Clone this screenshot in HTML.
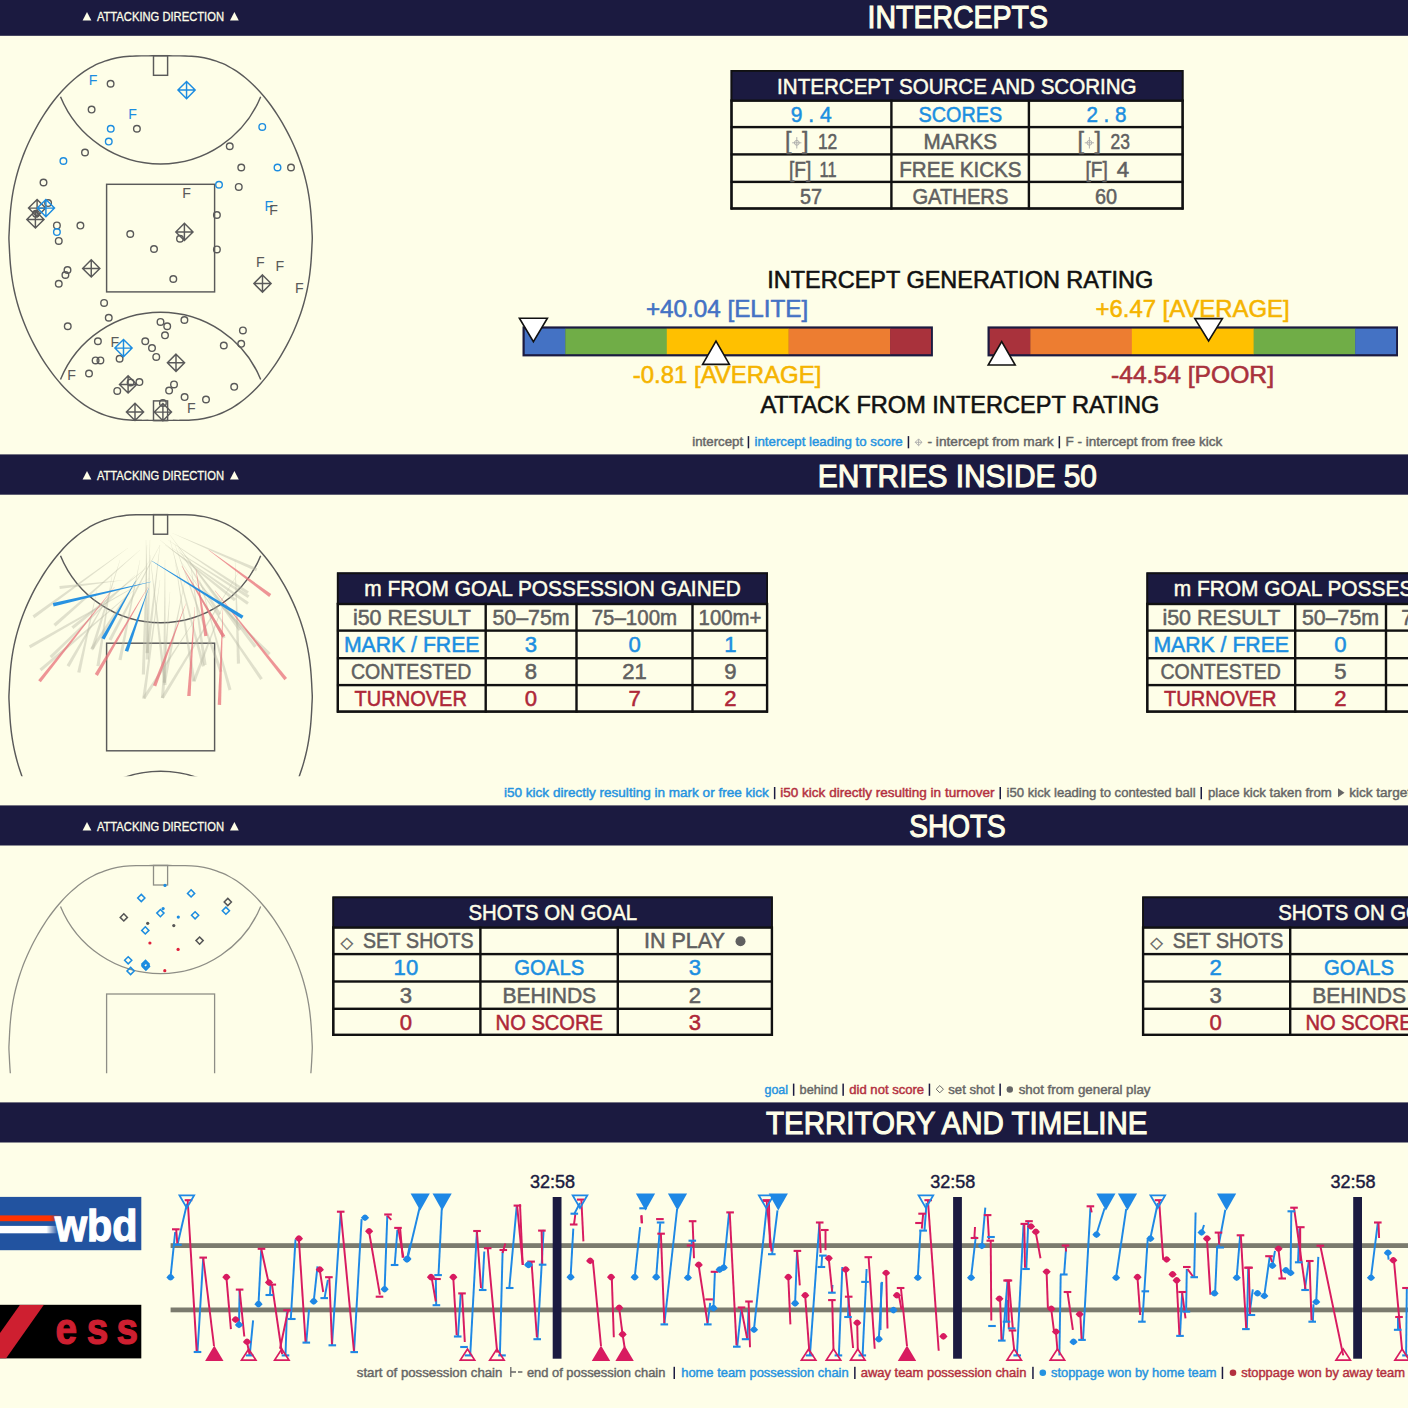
<!DOCTYPE html>
<html><head><meta charset="utf-8"><style>
html,body{margin:0;padding:0;background:#FEFEE8;overflow:hidden;width:1408px;height:1408px;}
svg{display:block;font-family:"Liberation Sans", "DejaVu Sans", sans-serif;}
</style></head><body>
<svg width="1408" height="1408" viewBox="0 0 1408 1408">
<rect width="1408" height="1408" fill="#FEFEE8"/>
<rect x="0" y="-5" width="1408" height="40.8" fill="#1B1A40"/><text x="867.6" y="27.6" font-size="31.8" fill="#FEFEE8" stroke="#FEFEE8" stroke-width="1.11" text-anchor="start" font-weight="normal" textLength="180.4" lengthAdjust="spacingAndGlyphs">INTERCEPTS</text><text x="96.9" y="20.6" font-size="12.2" fill="#FEFEE8" stroke="#FEFEE8" stroke-width="0.29" text-anchor="start" font-weight="normal" textLength="127.1" lengthAdjust="spacingAndGlyphs">ATTACKING DIRECTION</text><polygon points="82.6,20.6 91.4,20.6 87.0,12.000000000000002" fill="#FEFEE8"/><polygon points="230.0,20.6 238.8,20.6 234.4,12.000000000000002" fill="#FEFEE8"/><rect x="0" y="454.4" width="1408" height="40.30000000000001" fill="#1B1A40"/><text x="817.8" y="486.5" font-size="31.8" fill="#FEFEE8" stroke="#FEFEE8" stroke-width="1.11" text-anchor="start" font-weight="normal" textLength="279.2" lengthAdjust="spacingAndGlyphs">ENTRIES INSIDE 50</text><text x="96.9" y="479.6" font-size="12.2" fill="#FEFEE8" stroke="#FEFEE8" stroke-width="0.29" text-anchor="start" font-weight="normal" textLength="127.1" lengthAdjust="spacingAndGlyphs">ATTACKING DIRECTION</text><polygon points="82.6,479.6 91.4,479.6 87.0,471.0" fill="#FEFEE8"/><polygon points="230.0,479.6 238.8,479.6 234.4,471.0" fill="#FEFEE8"/><rect x="0" y="805.4" width="1408" height="40.10000000000002" fill="#1B1A40"/><text x="909.3" y="837.4" font-size="31.8" fill="#FEFEE8" stroke="#FEFEE8" stroke-width="1.11" text-anchor="start" font-weight="normal" textLength="96.4" lengthAdjust="spacingAndGlyphs">SHOTS</text><text x="96.9" y="830.5" font-size="12.2" fill="#FEFEE8" stroke="#FEFEE8" stroke-width="0.29" text-anchor="start" font-weight="normal" textLength="127.1" lengthAdjust="spacingAndGlyphs">ATTACKING DIRECTION</text><polygon points="82.6,830.5 91.4,830.5 87.0,821.9" fill="#FEFEE8"/><polygon points="230.0,830.5 238.8,830.5 234.4,821.9" fill="#FEFEE8"/><rect x="0" y="1102.4" width="1408" height="40.09999999999991" fill="#1B1A40"/><text x="766.0" y="1133.7" font-size="31.8" fill="#FEFEE8" stroke="#FEFEE8" stroke-width="1.11" text-anchor="start" font-weight="normal" textLength="381.5" lengthAdjust="spacingAndGlyphs">TERRITORY AND TIMELINE</text><path d="M160.60,55.78 C158.56,55.78 156.53,55.77 154.49,55.78 C152.45,55.79 150.43,55.84 148.38,55.85 C146.33,55.86 144.28,55.84 142.22,55.85 C140.16,55.86 138.08,55.86 136.00,55.92 C133.92,55.98 131.84,56.05 129.75,56.19 C127.66,56.33 125.56,56.51 123.47,56.77 C121.38,57.03 119.28,57.35 117.20,57.75 C115.12,58.15 113.04,58.62 110.98,59.18 C108.92,59.73 106.85,60.37 104.82,61.08 C102.79,61.79 100.77,62.58 98.78,63.45 C96.79,64.32 94.82,65.28 92.88,66.31 C90.94,67.34 89.02,68.44 87.13,69.61 C85.24,70.78 83.39,72.02 81.57,73.33 C79.75,74.64 77.95,76.02 76.20,77.45 C74.45,78.88 72.73,80.38 71.04,81.92 C69.35,83.46 67.70,85.06 66.08,86.70 C64.46,88.34 62.88,90.03 61.33,91.75 C59.78,93.47 58.27,95.25 56.79,97.05 C55.31,98.85 53.86,100.69 52.44,102.56 C51.02,104.43 49.64,106.33 48.29,108.26 C46.94,110.19 45.62,112.14 44.33,114.12 C43.04,116.10 41.79,118.10 40.56,120.13 C39.33,122.16 38.13,124.21 36.97,126.28 C35.80,128.35 34.67,130.45 33.57,132.56 C32.47,134.67 31.40,136.81 30.36,138.96 C29.32,141.12 28.31,143.29 27.34,145.49 C26.37,147.69 25.43,149.90 24.53,152.14 C23.63,154.38 22.76,156.63 21.93,158.90 C21.10,161.17 20.31,163.46 19.56,165.77 C18.81,168.08 18.11,170.41 17.44,172.75 C16.78,175.09 16.15,177.45 15.57,179.82 C14.99,182.19 14.45,184.57 13.96,186.97 C13.47,189.37 13.02,191.78 12.62,194.20 C12.21,196.62 11.85,199.04 11.53,201.47 C11.21,203.90 10.93,206.33 10.69,208.77 C10.45,211.21 10.24,213.66 10.06,216.10 C9.88,218.54 9.74,220.99 9.60,223.43 C9.46,225.87 9.36,228.31 9.24,230.76 C9.12,233.20 8.91,235.65 8.91,238.10 C8.91,240.55 9.12,243.00 9.24,245.44 C9.36,247.88 9.46,250.33 9.60,252.77 C9.74,255.21 9.88,257.66 10.06,260.10 C10.24,262.54 10.45,264.99 10.69,267.43 C10.93,269.87 11.21,272.30 11.53,274.73 C11.85,277.16 12.21,279.58 12.62,282.00 C13.02,284.42 13.47,286.83 13.96,289.23 C14.45,291.63 14.99,294.01 15.57,296.38 C16.15,298.75 16.78,301.11 17.44,303.45 C18.11,305.79 18.81,308.12 19.56,310.43 C20.31,312.74 21.10,315.03 21.93,317.30 C22.76,319.57 23.63,321.82 24.53,324.06 C25.43,326.30 26.37,328.51 27.34,330.71 C28.31,332.91 29.32,335.09 30.36,337.24 C31.40,339.39 32.47,341.53 33.57,343.64 C34.67,345.75 35.80,347.85 36.97,349.92 C38.13,351.99 39.33,354.04 40.56,356.07 C41.79,358.10 43.04,360.10 44.33,362.08 C45.62,364.06 46.94,366.01 48.29,367.94 C49.64,369.87 51.02,371.77 52.44,373.64 C53.86,375.51 55.31,377.35 56.79,379.15 C58.27,380.95 59.78,382.72 61.33,384.45 C62.88,386.18 64.46,387.86 66.08,389.50 C67.70,391.14 69.35,392.74 71.04,394.28 C72.73,395.82 74.45,397.32 76.20,398.75 C77.95,400.18 79.75,401.56 81.57,402.87 C83.39,404.18 85.24,405.42 87.13,406.59 C89.02,407.76 90.94,408.86 92.88,409.89 C94.82,410.92 96.79,411.88 98.78,412.75 C100.77,413.62 102.79,414.41 104.82,415.12 C106.85,415.83 108.92,416.46 110.98,417.02 C113.04,417.57 115.12,418.05 117.20,418.45 C119.28,418.85 121.38,419.17 123.47,419.43 C125.56,419.69 127.66,419.87 129.75,420.01 C131.84,420.15 133.92,420.22 136.00,420.28 C138.08,420.34 140.16,420.34 142.22,420.35 C144.28,420.36 146.33,420.34 148.38,420.35 C150.43,420.36 152.45,420.41 154.49,420.42 C156.53,420.43 158.56,420.42 160.60,420.42 C162.64,420.42 164.67,420.43 166.71,420.42 C168.75,420.41 170.77,420.36 172.82,420.35 C174.87,420.34 176.92,420.36 178.98,420.35 C181.04,420.34 183.12,420.34 185.20,420.28 C187.28,420.22 189.36,420.15 191.45,420.01 C193.54,419.87 195.64,419.69 197.73,419.43 C199.82,419.17 201.92,418.85 204.00,418.45 C206.08,418.05 208.16,417.57 210.22,417.02 C212.28,416.46 214.35,415.83 216.38,415.12 C218.41,414.41 220.43,413.62 222.42,412.75 C224.41,411.88 226.38,410.92 228.32,409.89 C230.26,408.86 232.19,407.76 234.07,406.59 C235.95,405.42 237.81,404.18 239.63,402.87 C241.45,401.56 243.25,400.18 245.00,398.75 C246.75,397.32 248.47,395.82 250.16,394.28 C251.85,392.74 253.50,391.14 255.12,389.50 C256.74,387.86 258.32,386.18 259.87,384.45 C261.42,382.72 262.93,380.95 264.41,379.15 C265.89,377.35 267.34,375.51 268.76,373.64 C270.18,371.77 271.56,369.87 272.91,367.94 C274.26,366.01 275.58,364.06 276.87,362.08 C278.16,360.10 279.41,358.10 280.64,356.07 C281.87,354.04 283.06,351.99 284.23,349.92 C285.40,347.85 286.53,345.75 287.63,343.64 C288.73,341.53 289.80,339.39 290.84,337.24 C291.88,335.09 292.89,332.91 293.86,330.71 C294.83,328.51 295.77,326.30 296.67,324.06 C297.57,321.82 298.44,319.57 299.27,317.30 C300.10,315.03 300.89,312.74 301.64,310.43 C302.39,308.12 303.09,305.79 303.76,303.45 C304.43,301.11 305.05,298.75 305.63,296.38 C306.21,294.01 306.75,291.63 307.24,289.23 C307.73,286.83 308.17,284.42 308.58,282.00 C308.99,279.58 309.35,277.16 309.67,274.73 C309.99,272.30 310.26,269.87 310.51,267.43 C310.75,264.99 310.96,262.54 311.14,260.10 C311.32,257.66 311.46,255.21 311.60,252.77 C311.74,250.33 311.84,247.88 311.96,245.44 C312.07,243.00 312.29,240.55 312.29,238.10 C312.29,235.65 312.07,233.20 311.96,230.76 C311.84,228.31 311.74,225.87 311.60,223.43 C311.46,220.99 311.32,218.54 311.14,216.10 C310.96,213.66 310.75,211.21 310.51,208.77 C310.26,206.33 309.99,203.90 309.67,201.47 C309.35,199.04 308.99,196.62 308.58,194.20 C308.17,191.78 307.73,189.37 307.24,186.97 C306.75,184.57 306.21,182.19 305.63,179.82 C305.05,177.45 304.43,175.09 303.76,172.75 C303.09,170.41 302.39,168.08 301.64,165.77 C300.89,163.46 300.10,161.17 299.27,158.90 C298.44,156.63 297.57,154.38 296.67,152.14 C295.77,149.90 294.83,147.69 293.86,145.49 C292.89,143.29 291.88,141.12 290.84,138.96 C289.80,136.81 288.73,134.67 287.63,132.56 C286.53,130.45 285.40,128.35 284.23,126.28 C283.06,124.21 281.87,122.16 280.64,120.13 C279.41,118.10 278.16,116.10 276.87,114.12 C275.58,112.14 274.26,110.19 272.91,108.26 C271.56,106.33 270.18,104.43 268.76,102.56 C267.34,100.69 265.89,98.85 264.41,97.05 C262.93,95.25 261.42,93.47 259.87,91.75 C258.32,90.03 256.74,88.34 255.12,86.70 C253.50,85.06 251.85,83.46 250.16,81.92 C248.47,80.38 246.75,78.88 245.00,77.45 C243.25,76.02 241.45,74.64 239.63,73.33 C237.81,72.02 235.95,70.78 234.07,69.61 C232.19,68.44 230.26,67.34 228.32,66.31 C226.38,65.28 224.41,64.32 222.42,63.45 C220.43,62.58 218.41,61.79 216.38,61.08 C214.35,60.37 212.28,59.73 210.22,59.18 C208.16,58.62 206.08,58.15 204.00,57.75 C201.92,57.35 199.82,57.03 197.73,56.77 C195.64,56.51 193.54,56.33 191.45,56.19 C189.36,56.05 187.28,55.98 185.20,55.92 C183.12,55.86 181.04,55.86 178.98,55.85 C176.92,55.84 174.87,55.86 172.82,55.85 C170.77,55.84 168.75,55.79 166.71,55.78 C164.67,55.77 162.64,55.78 160.60,55.78 Z" fill="none" stroke="#5A5A5A" stroke-width="1.45"/><rect x="153.5" y="55.70" width="14.1" height="19.6" fill="none" stroke="#5A5A5A" stroke-width="1.45"/><rect x="153.5" y="400.90" width="14.1" height="19.6" fill="none" stroke="#5A5A5A" stroke-width="1.45"/><path d="M60.50,96.78 A108.2,108.2 0 0 0 260.70,96.78" fill="none" stroke="#5A5A5A" stroke-width="1.45"/><path d="M60.50,379.42 A108.2,108.2 0 0 1 260.70,379.42" fill="none" stroke="#5A5A5A" stroke-width="1.45"/><rect x="106.6" y="184.30" width="108" height="107.6" fill="none" stroke="#5A5A5A" stroke-width="1.45"/><circle cx="110.6" cy="83.75" r="3.3" fill="none" stroke="#5A5A5A" stroke-width="1.4"/><circle cx="91.6" cy="109.6" r="3.3" fill="none" stroke="#5A5A5A" stroke-width="1.4"/><circle cx="110.75" cy="128.75" r="3.3" fill="none" stroke="#1C8CE0" stroke-width="1.4"/><circle cx="136.9" cy="128.75" r="3.3" fill="none" stroke="#5A5A5A" stroke-width="1.4"/><circle cx="108.75" cy="141.6" r="3.3" fill="none" stroke="#1C8CE0" stroke-width="1.4"/><circle cx="85" cy="152.5" r="3.3" fill="none" stroke="#5A5A5A" stroke-width="1.4"/><circle cx="63.4" cy="161" r="3.3" fill="none" stroke="#1C8CE0" stroke-width="1.4"/><circle cx="43.5" cy="182.5" r="3.3" fill="none" stroke="#5A5A5A" stroke-width="1.4"/><circle cx="48.1" cy="203.1" r="3.3" fill="none" stroke="#5A5A5A" stroke-width="1.4"/><circle cx="56.9" cy="225.4" r="3.3" fill="none" stroke="#5A5A5A" stroke-width="1.4"/><circle cx="56.9" cy="232.1" r="3.3" fill="none" stroke="#1C8CE0" stroke-width="1.4"/><circle cx="58.75" cy="240.9" r="3.3" fill="none" stroke="#5A5A5A" stroke-width="1.4"/><circle cx="80.4" cy="225.6" r="3.3" fill="none" stroke="#5A5A5A" stroke-width="1.4"/><circle cx="130.25" cy="234" r="3.3" fill="none" stroke="#5A5A5A" stroke-width="1.4"/><circle cx="154" cy="249" r="3.3" fill="none" stroke="#5A5A5A" stroke-width="1.4"/><circle cx="67.5" cy="270" r="3.3" fill="none" stroke="#5A5A5A" stroke-width="1.4"/><circle cx="65.4" cy="275" r="3.3" fill="none" stroke="#5A5A5A" stroke-width="1.4"/><circle cx="58.75" cy="283.75" r="3.3" fill="none" stroke="#5A5A5A" stroke-width="1.4"/><circle cx="173.3" cy="279" r="3.3" fill="none" stroke="#5A5A5A" stroke-width="1.4"/><circle cx="104.1" cy="302.9" r="3.3" fill="none" stroke="#5A5A5A" stroke-width="1.4"/><circle cx="108.75" cy="317.75" r="3.3" fill="none" stroke="#5A5A5A" stroke-width="1.4"/><circle cx="67.75" cy="326.25" r="3.3" fill="none" stroke="#5A5A5A" stroke-width="1.4"/><circle cx="97.9" cy="341.25" r="3.3" fill="none" stroke="#5A5A5A" stroke-width="1.4"/><circle cx="119.6" cy="358.75" r="3.3" fill="none" stroke="#5A5A5A" stroke-width="1.4"/><circle cx="95.6" cy="360.4" r="3.3" fill="none" stroke="#5A5A5A" stroke-width="1.4"/><circle cx="100.4" cy="360.4" r="3.3" fill="none" stroke="#5A5A5A" stroke-width="1.4"/><circle cx="160.5" cy="321.9" r="3.3" fill="none" stroke="#5A5A5A" stroke-width="1.4"/><circle cx="167.2" cy="326.25" r="3.3" fill="none" stroke="#5A5A5A" stroke-width="1.4"/><circle cx="165" cy="335.3" r="3.3" fill="none" stroke="#5A5A5A" stroke-width="1.4"/><circle cx="145.25" cy="341.25" r="3.3" fill="none" stroke="#5A5A5A" stroke-width="1.4"/><circle cx="152" cy="348.1" r="3.3" fill="none" stroke="#5A5A5A" stroke-width="1.4"/><circle cx="156.25" cy="356.9" r="3.3" fill="none" stroke="#5A5A5A" stroke-width="1.4"/><circle cx="262.25" cy="126.9" r="3.3" fill="none" stroke="#1C8CE0" stroke-width="1.4"/><circle cx="229.75" cy="146.25" r="3.3" fill="none" stroke="#5A5A5A" stroke-width="1.4"/><circle cx="241.25" cy="167.5" r="3.3" fill="none" stroke="#5A5A5A" stroke-width="1.4"/><circle cx="277.5" cy="167.5" r="3.3" fill="none" stroke="#1C8CE0" stroke-width="1.4"/><circle cx="291" cy="167.5" r="3.3" fill="none" stroke="#5A5A5A" stroke-width="1.4"/><circle cx="219" cy="184.75" r="3.3" fill="none" stroke="#1C8CE0" stroke-width="1.4"/><circle cx="238.75" cy="186.9" r="3.3" fill="none" stroke="#5A5A5A" stroke-width="1.4"/><circle cx="216.9" cy="215" r="3.3" fill="none" stroke="#5A5A5A" stroke-width="1.4"/><circle cx="180" cy="238.75" r="3.3" fill="none" stroke="#5A5A5A" stroke-width="1.4"/><circle cx="216.9" cy="249.4" r="3.3" fill="none" stroke="#5A5A5A" stroke-width="1.4"/><circle cx="184.4" cy="320" r="3.3" fill="none" stroke="#5A5A5A" stroke-width="1.4"/><circle cx="242.9" cy="330.4" r="3.3" fill="none" stroke="#5A5A5A" stroke-width="1.4"/><circle cx="241.2" cy="343.8" r="3.3" fill="none" stroke="#5A5A5A" stroke-width="1.4"/><circle cx="223.8" cy="345.5" r="3.3" fill="none" stroke="#5A5A5A" stroke-width="1.4"/><circle cx="234.2" cy="386.8" r="3.3" fill="none" stroke="#5A5A5A" stroke-width="1.4"/><circle cx="206" cy="399.5" r="3.3" fill="none" stroke="#5A5A5A" stroke-width="1.4"/><circle cx="89" cy="373.5" r="3.3" fill="none" stroke="#5A5A5A" stroke-width="1.4"/><circle cx="130.6" cy="382.5" r="3.3" fill="none" stroke="#5A5A5A" stroke-width="1.4"/><circle cx="139.4" cy="382.1" r="3.3" fill="none" stroke="#5A5A5A" stroke-width="1.4"/><circle cx="117.25" cy="390.9" r="3.3" fill="none" stroke="#5A5A5A" stroke-width="1.4"/><circle cx="174" cy="384.4" r="3.3" fill="none" stroke="#5A5A5A" stroke-width="1.4"/><circle cx="169.1" cy="390.6" r="3.3" fill="none" stroke="#5A5A5A" stroke-width="1.4"/><circle cx="184.6" cy="397.1" r="3.3" fill="none" stroke="#5A5A5A" stroke-width="1.4"/><circle cx="162.9" cy="403.1" r="3.3" fill="none" stroke="#5A5A5A" stroke-width="1.4"/><circle cx="36" cy="213.75" r="3.3" fill="none" stroke="#5A5A5A" stroke-width="1.4"/><path d="M37.1,199.5 L45.7,208.1 L37.1,216.7 L28.5,208.1 Z M37.1,199.5 V216.7 M28.5,208.1 H45.7" fill="none" stroke="#5A5A5A" stroke-width="1.45" stroke-linejoin="miter"/><path d="M35.4,210.8 L44.0,219.4 L35.4,228.0 L26.799999999999997,219.4 Z M35.4,210.8 V228.0 M26.799999999999997,219.4 H44.0" fill="none" stroke="#5A5A5A" stroke-width="1.45" stroke-linejoin="miter"/><path d="M91.25,259.79999999999995 L99.85,268.4 L91.25,277.0 L82.65,268.4 Z M91.25,259.79999999999995 V277.0 M82.65,268.4 H99.85" fill="none" stroke="#5A5A5A" stroke-width="1.45" stroke-linejoin="miter"/><path d="M184.4,223.3 L193.0,231.9 L184.4,240.5 L175.8,231.9 Z M184.4,223.3 V240.5 M175.8,231.9 H193.0" fill="none" stroke="#5A5A5A" stroke-width="1.45" stroke-linejoin="miter"/><path d="M262.5,274.9 L271.1,283.5 L262.5,292.1 L253.9,283.5 Z M262.5,274.9 V292.1 M253.9,283.5 H271.1" fill="none" stroke="#5A5A5A" stroke-width="1.45" stroke-linejoin="miter"/><path d="M176,354.15 L184.6,362.75 L176,371.35 L167.4,362.75 Z M176,354.15 V371.35 M167.4,362.75 H184.6" fill="none" stroke="#5A5A5A" stroke-width="1.45" stroke-linejoin="miter"/><path d="M128.1,375.79999999999995 L136.7,384.4 L128.1,393.0 L119.5,384.4 Z M128.1,375.79999999999995 V393.0 M119.5,384.4 H136.7" fill="none" stroke="#5A5A5A" stroke-width="1.45" stroke-linejoin="miter"/><path d="M135,403.29999999999995 L143.6,411.9 L135,420.5 L126.4,411.9 Z M135,403.29999999999995 V420.5 M126.4,411.9 H143.6" fill="none" stroke="#5A5A5A" stroke-width="1.45" stroke-linejoin="miter"/><path d="M162.9,403.5 L171.5,412.1 L162.9,420.70000000000005 L154.3,412.1 Z M162.9,403.5 V420.70000000000005 M154.3,412.1 H171.5" fill="none" stroke="#5A5A5A" stroke-width="1.45" stroke-linejoin="miter"/><path d="M45.9,199.5 L54.5,208.1 L45.9,216.7 L37.3,208.1 Z M45.9,199.5 V216.7 M37.3,208.1 H54.5" fill="none" stroke="#1C8CE0" stroke-width="1.45" stroke-linejoin="miter"/><path d="M186.55,81.46000000000001 L195.15,90.06 L186.55,98.66 L177.95000000000002,90.06 Z M186.55,81.46000000000001 V98.66 M177.95000000000002,90.06 H195.15" fill="none" stroke="#1C8CE0" stroke-width="1.45" stroke-linejoin="miter"/><path d="M123.5,339.5 L132.1,348.1 L123.5,356.70000000000005 L114.9,348.1 Z M123.5,339.5 V356.70000000000005 M114.9,348.1 H132.1" fill="none" stroke="#1C8CE0" stroke-width="1.45" stroke-linejoin="miter"/><text x="93.1" y="84.5" font-size="14.2" fill="#1C8CE0" text-anchor="middle">F</text><text x="132.5" y="118.6" font-size="14.2" fill="#1C8CE0" text-anchor="middle">F</text><text x="186.5" y="198.2" font-size="14.2" fill="#5A5A5A" text-anchor="middle">F</text><text x="268.75" y="210.7" font-size="14.2" fill="#1C8CE0" text-anchor="middle">F</text><text x="273.5" y="215.1" font-size="14.2" fill="#5A5A5A" text-anchor="middle">F</text><text x="260.25" y="267.0" font-size="14.2" fill="#5A5A5A" text-anchor="middle">F</text><text x="279.75" y="271.35" font-size="14.2" fill="#5A5A5A" text-anchor="middle">F</text><text x="299.4" y="292.6" font-size="14.2" fill="#5A5A5A" text-anchor="middle">F</text><text x="114.75" y="346.5" font-size="14.2" fill="#5A5A5A" text-anchor="middle">F</text><text x="71.5" y="380.1" font-size="14.2" fill="#5A5A5A" text-anchor="middle">F</text><text x="191.25" y="412.6" font-size="14.2" fill="#5A5A5A" text-anchor="middle">F</text><clipPath id="c2"><rect x="0" y="509.6" width="330" height="266.7"/></clipPath><g clip-path="url(#c2)"><path d="M160.60,514.68 C158.56,514.68 156.53,514.67 154.49,514.68 C152.45,514.69 150.43,514.74 148.38,514.75 C146.33,514.76 144.28,514.74 142.22,514.75 C140.16,514.76 138.08,514.76 136.00,514.82 C133.92,514.88 131.84,514.95 129.75,515.09 C127.66,515.23 125.56,515.41 123.47,515.67 C121.38,515.93 119.28,516.25 117.20,516.65 C115.12,517.05 113.04,517.52 110.98,518.08 C108.92,518.63 106.85,519.27 104.82,519.98 C102.79,520.69 100.77,521.48 98.78,522.35 C96.79,523.22 94.82,524.18 92.88,525.21 C90.94,526.24 89.02,527.34 87.13,528.51 C85.24,529.68 83.39,530.92 81.57,532.23 C79.75,533.54 77.95,534.92 76.20,536.35 C74.45,537.78 72.73,539.28 71.04,540.82 C69.35,542.36 67.70,543.96 66.08,545.60 C64.46,547.24 62.88,548.92 61.33,550.65 C59.78,552.38 58.27,554.15 56.79,555.95 C55.31,557.75 53.86,559.59 52.44,561.46 C51.02,563.33 49.64,565.23 48.29,567.16 C46.94,569.09 45.62,571.04 44.33,573.02 C43.04,575.00 41.79,577.00 40.56,579.03 C39.33,581.06 38.13,583.11 36.97,585.18 C35.80,587.25 34.67,589.35 33.57,591.46 C32.47,593.57 31.40,595.70 30.36,597.86 C29.32,600.01 28.31,602.19 27.34,604.39 C26.37,606.59 25.43,608.80 24.53,611.04 C23.63,613.27 22.76,615.53 21.93,617.80 C21.10,620.07 20.31,622.36 19.56,624.67 C18.81,626.98 18.11,629.31 17.44,631.65 C16.78,633.99 16.15,636.35 15.57,638.72 C14.99,641.09 14.45,643.47 13.96,645.87 C13.47,648.27 13.02,650.68 12.62,653.10 C12.21,655.52 11.85,657.94 11.53,660.37 C11.21,662.80 10.93,665.23 10.69,667.67 C10.45,670.11 10.24,672.56 10.06,675.00 C9.88,677.44 9.74,679.89 9.60,682.33 C9.46,684.77 9.36,687.21 9.24,689.66 C9.12,692.11 8.91,694.55 8.91,697.00 C8.91,699.45 9.12,701.89 9.24,704.34 C9.36,706.78 9.46,709.23 9.60,711.67 C9.74,714.11 9.88,716.56 10.06,719.00 C10.24,721.44 10.45,723.89 10.69,726.33 C10.93,728.77 11.21,731.20 11.53,733.63 C11.85,736.06 12.21,738.48 12.62,740.90 C13.02,743.32 13.47,745.73 13.96,748.13 C14.45,750.53 14.99,752.91 15.57,755.28 C16.15,757.65 16.78,760.01 17.44,762.35 C18.11,764.69 18.81,767.02 19.56,769.33 C20.31,771.64 21.10,773.93 21.93,776.20 C22.76,778.47 23.63,780.72 24.53,782.96 C25.43,785.19 26.37,787.41 27.34,789.61 C28.31,791.81 29.32,793.99 30.36,796.14 C31.40,798.29 32.47,800.43 33.57,802.54 C34.67,804.65 35.80,806.75 36.97,808.82 C38.13,810.89 39.33,812.94 40.56,814.97 C41.79,817.00 43.04,819.00 44.33,820.98 C45.62,822.96 46.94,824.91 48.29,826.84 C49.64,828.77 51.02,830.67 52.44,832.54 C53.86,834.41 55.31,836.25 56.79,838.05 C58.27,839.85 59.78,841.62 61.33,843.35 C62.88,845.08 64.46,846.76 66.08,848.40 C67.70,850.04 69.35,851.64 71.04,853.18 C72.73,854.72 74.45,856.22 76.20,857.65 C77.95,859.08 79.75,860.46 81.57,861.77 C83.39,863.08 85.24,864.32 87.13,865.49 C89.02,866.66 90.94,867.76 92.88,868.79 C94.82,869.82 96.79,870.78 98.78,871.65 C100.77,872.52 102.79,873.31 104.82,874.02 C106.85,874.73 108.92,875.37 110.98,875.92 C113.04,876.47 115.12,876.95 117.20,877.35 C119.28,877.75 121.38,878.07 123.47,878.33 C125.56,878.59 127.66,878.77 129.75,878.91 C131.84,879.05 133.92,879.12 136.00,879.18 C138.08,879.24 140.16,879.24 142.22,879.25 C144.28,879.26 146.33,879.24 148.38,879.25 C150.43,879.26 152.45,879.31 154.49,879.32 C156.53,879.33 158.56,879.32 160.60,879.32 C162.64,879.32 164.67,879.33 166.71,879.32 C168.75,879.31 170.77,879.26 172.82,879.25 C174.87,879.24 176.92,879.26 178.98,879.25 C181.04,879.24 183.12,879.24 185.20,879.18 C187.28,879.12 189.36,879.05 191.45,878.91 C193.54,878.77 195.64,878.59 197.73,878.33 C199.82,878.07 201.92,877.75 204.00,877.35 C206.08,876.95 208.16,876.47 210.22,875.92 C212.28,875.37 214.35,874.73 216.38,874.02 C218.41,873.31 220.43,872.52 222.42,871.65 C224.41,870.78 226.38,869.82 228.32,868.79 C230.26,867.76 232.19,866.66 234.07,865.49 C235.95,864.32 237.81,863.08 239.63,861.77 C241.45,860.46 243.25,859.08 245.00,857.65 C246.75,856.22 248.47,854.72 250.16,853.18 C251.85,851.64 253.50,850.04 255.12,848.40 C256.74,846.76 258.32,845.08 259.87,843.35 C261.42,841.62 262.93,839.85 264.41,838.05 C265.89,836.25 267.34,834.41 268.76,832.54 C270.18,830.67 271.56,828.77 272.91,826.84 C274.26,824.91 275.58,822.96 276.87,820.98 C278.16,819.00 279.41,817.00 280.64,814.97 C281.87,812.94 283.06,810.89 284.23,808.82 C285.40,806.75 286.53,804.65 287.63,802.54 C288.73,800.43 289.80,798.29 290.84,796.14 C291.88,793.99 292.89,791.81 293.86,789.61 C294.83,787.41 295.77,785.19 296.67,782.96 C297.57,780.72 298.44,778.47 299.27,776.20 C300.10,773.93 300.89,771.64 301.64,769.33 C302.39,767.02 303.09,764.69 303.76,762.35 C304.43,760.01 305.05,757.65 305.63,755.28 C306.21,752.91 306.75,750.53 307.24,748.13 C307.73,745.73 308.17,743.32 308.58,740.90 C308.99,738.48 309.35,736.06 309.67,733.63 C309.99,731.20 310.26,728.77 310.51,726.33 C310.75,723.89 310.96,721.44 311.14,719.00 C311.32,716.56 311.46,714.11 311.60,711.67 C311.74,709.23 311.84,706.78 311.96,704.34 C312.07,701.89 312.29,699.45 312.29,697.00 C312.29,694.55 312.07,692.11 311.96,689.66 C311.84,687.21 311.74,684.77 311.60,682.33 C311.46,679.89 311.32,677.44 311.14,675.00 C310.96,672.56 310.75,670.11 310.51,667.67 C310.26,665.23 309.99,662.80 309.67,660.37 C309.35,657.94 308.99,655.52 308.58,653.10 C308.17,650.68 307.73,648.27 307.24,645.87 C306.75,643.47 306.21,641.09 305.63,638.72 C305.05,636.35 304.43,633.99 303.76,631.65 C303.09,629.31 302.39,626.98 301.64,624.67 C300.89,622.36 300.10,620.07 299.27,617.80 C298.44,615.53 297.57,613.27 296.67,611.04 C295.77,608.80 294.83,606.59 293.86,604.39 C292.89,602.19 291.88,600.01 290.84,597.86 C289.80,595.70 288.73,593.57 287.63,591.46 C286.53,589.35 285.40,587.25 284.23,585.18 C283.06,583.11 281.87,581.06 280.64,579.03 C279.41,577.00 278.16,575.00 276.87,573.02 C275.58,571.04 274.26,569.09 272.91,567.16 C271.56,565.23 270.18,563.33 268.76,561.46 C267.34,559.59 265.89,557.75 264.41,555.95 C262.93,554.15 261.42,552.38 259.87,550.65 C258.32,548.92 256.74,547.24 255.12,545.60 C253.50,543.96 251.85,542.36 250.16,540.82 C248.47,539.28 246.75,537.78 245.00,536.35 C243.25,534.92 241.45,533.54 239.63,532.23 C237.81,530.92 235.95,529.68 234.07,528.51 C232.19,527.34 230.26,526.24 228.32,525.21 C226.38,524.18 224.41,523.22 222.42,522.35 C220.43,521.48 218.41,520.69 216.38,519.98 C214.35,519.27 212.28,518.63 210.22,518.08 C208.16,517.52 206.08,517.05 204.00,516.65 C201.92,516.25 199.82,515.93 197.73,515.67 C195.64,515.41 193.54,515.23 191.45,515.09 C189.36,514.95 187.28,514.88 185.20,514.82 C183.12,514.76 181.04,514.76 178.98,514.75 C176.92,514.74 174.87,514.76 172.82,514.75 C170.77,514.74 168.75,514.69 166.71,514.68 C164.67,514.67 162.64,514.68 160.60,514.68 Z" fill="none" stroke="#5A5A5A" stroke-width="1.45"/><rect x="153.5" y="514.60" width="14.1" height="19.6" fill="none" stroke="#5A5A5A" stroke-width="1.45"/><rect x="153.5" y="859.80" width="14.1" height="19.6" fill="none" stroke="#5A5A5A" stroke-width="1.45"/><path d="M60.50,555.68 A108.2,108.2 0 0 0 260.70,555.68" fill="none" stroke="#5A5A5A" stroke-width="1.45"/><path d="M60.50,838.32 A108.2,108.2 0 0 1 260.70,838.32" fill="none" stroke="#5A5A5A" stroke-width="1.45"/><rect x="106.6" y="643.20" width="108" height="107.6" fill="none" stroke="#5A5A5A" stroke-width="1.45"/></g><polygon points="127.9,547.9 32.5,615.6 34.3,618.2 128.1,548.1" fill="#B8B8A4" fill-opacity="0.42"/><polygon points="149.9,577.9 28.8,645.5 30.4,648.3 150.1,578.1" fill="#B8B8A4" fill-opacity="0.42"/><polygon points="139.9,584.9 39.5,668.8 41.5,671.2 140.1,585.1" fill="#B8B8A4" fill-opacity="0.42"/><polygon points="134.9,574.9 49.6,656.1 51.8,658.3 135.1,575.1" fill="#B8B8A4" fill-opacity="0.42"/><polygon points="139.9,549.9 53.4,624.0 55.6,626.4 140.1,550.1" fill="#B8B8A4" fill-opacity="0.42"/><polygon points="125.0,579.9 59.4,585.9 59.8,589.1 125.0,580.1" fill="#B8B8A4" fill-opacity="0.42"/><polygon points="149.9,564.9 71.4,626.6 73.4,629.0 150.1,565.1" fill="#B8B8A4" fill-opacity="0.42"/><polygon points="111.9,589.9 66.6,665.3 69.4,666.9 112.1,590.1" fill="#B8B8A4" fill-opacity="0.42"/><polygon points="96.9,590.0 77.2,672.2 80.4,672.8 97.1,590.0" fill="#B8B8A4" fill-opacity="0.42"/><polygon points="149.9,559.9 90.3,648.6 92.9,650.4 150.1,560.1" fill="#B8B8A4" fill-opacity="0.42"/><polygon points="111.9,575.0 96.4,665.9 99.6,666.3 112.1,575.0" fill="#B8B8A4" fill-opacity="0.42"/><polygon points="146.9,545.0 141.8,674.4 145.0,674.4 147.1,545.0" fill="#B8B8A4" fill-opacity="0.42"/><polygon points="145.9,540.0 145.6,653.3 148.8,653.3 146.1,540.0" fill="#B8B8A4" fill-opacity="0.42"/><polygon points="195.9,617.9 142.7,697.1 145.3,698.9 196.1,618.1" fill="#B8B8A4" fill-opacity="0.42"/><polygon points="169.9,592.0 160.9,697.9 164.1,698.1 170.1,592.0" fill="#B8B8A4" fill-opacity="0.42"/><polygon points="164.9,560.0 162.9,682.7 166.1,682.7 165.1,560.0" fill="#B8B8A4" fill-opacity="0.42"/><polygon points="174.9,560.0 192.3,681.7 195.5,681.3 175.1,560.0" fill="#B8B8A4" fill-opacity="0.42"/><polygon points="119.9,560.0 91.0,648.3 94.0,649.2 120.1,560.0" fill="#B8B8A4" fill-opacity="0.42"/><polygon points="159.9,580.0 142.2,698.5 145.3,699.0 160.1,580.0" fill="#B8B8A4" fill-opacity="0.42"/><polygon points="149.9,555.0 163.4,685.2 166.6,684.8 150.1,555.0" fill="#B8B8A4" fill-opacity="0.42"/><polygon points="139.9,560.0 118.4,659.7 121.6,660.3 140.1,560.0" fill="#B8B8A4" fill-opacity="0.42"/><polygon points="159.9,544.9 108.6,639.3 111.4,640.7 160.1,545.1" fill="#B8B8A4" fill-opacity="0.42"/><polygon points="171.9,533.1 256.1,571.3 257.3,568.3 172.1,532.9" fill="#B8B8A4" fill-opacity="0.42"/><polygon points="167.9,540.1 247.1,594.1 248.9,591.5 168.1,539.9" fill="#B8B8A4" fill-opacity="0.42"/><polygon points="171.9,548.1 247.7,598.1 249.5,595.5 172.1,547.9" fill="#B8B8A4" fill-opacity="0.42"/><polygon points="164.9,545.1 247.1,604.8 248.9,602.2 165.1,544.9" fill="#B8B8A4" fill-opacity="0.42"/><polygon points="177.9,548.1 218.2,615.2 221.0,613.4 178.1,547.9" fill="#B8B8A4" fill-opacity="0.42"/><polygon points="184.9,570.1 222.9,638.8 225.7,637.2 185.1,569.9" fill="#B8B8A4" fill-opacity="0.42"/><polygon points="184.9,555.1 254.1,647.7 256.7,645.7 185.1,554.9" fill="#B8B8A4" fill-opacity="0.42"/><polygon points="194.9,580.1 268.5,655.3 270.7,653.1 195.1,579.9" fill="#B8B8A4" fill-opacity="0.42"/><polygon points="179.9,560.1 260.2,680.0 262.8,678.2 180.1,559.9" fill="#B8B8A4" fill-opacity="0.42"/><polygon points="234.9,560.0 236.9,663.7 240.1,663.5 235.1,560.0" fill="#B8B8A4" fill-opacity="0.42"/><polygon points="174.9,545.1 219.5,672.2 222.5,671.2 175.1,544.9" fill="#B8B8A4" fill-opacity="0.42"/><polygon points="169.9,540.0 201.9,666.7 204.9,665.9 170.1,540.0" fill="#B8B8A4" fill-opacity="0.42"/><polygon points="224.9,599.9 192.5,680.5 195.5,681.7 225.1,600.1" fill="#B8B8A4" fill-opacity="0.42"/><polygon points="184.9,580.0 162.7,682.2 165.9,682.8 185.1,580.0" fill="#B8B8A4" fill-opacity="0.42"/><polygon points="239.9,569.9 160.9,697.2 163.7,698.8 240.1,570.1" fill="#B8B8A4" fill-opacity="0.42"/><polygon points="149.9,540.0 145.8,659.6 149.0,659.6 150.1,540.0" fill="#B8B8A4" fill-opacity="0.42"/><polygon points="159.9,545.0 145.8,652.6 149.0,653.0 160.1,545.0" fill="#B8B8A4" fill-opacity="0.42"/><polygon points="169.9,535.1 238.7,630.9 241.3,629.1 170.1,534.9" fill="#B8B8A4" fill-opacity="0.42"/><polygon points="159.9,540.1 234.0,601.2 236.0,598.8 160.1,539.9" fill="#B8B8A4" fill-opacity="0.42"/><polygon points="189.9,560.0 203.4,665.2 206.6,664.8 190.1,560.0" fill="#B8B8A4" fill-opacity="0.42"/><polygon points="199.9,580.0 228.5,690.4 231.5,689.6 200.1,580.0" fill="#B8B8A4" fill-opacity="0.42"/><polygon points="114.4,586.9 38.2,680.2 40.8,682.3 114.6,587.1" fill="#E8707A" fill-opacity="0.75"/><polygon points="147.9,586.9 94.8,674.1 97.8,675.9 148.1,587.1" fill="#E8707A" fill-opacity="0.75"/><polygon points="208.7,550.3 269.2,596.9 271.2,594.1 208.9,550.1" fill="#E8707A" fill-opacity="0.75"/><polygon points="181.7,565.9 222.2,637.5 225.2,635.7 181.9,565.7" fill="#E8707A" fill-opacity="0.75"/><polygon points="195.9,569.1 204.2,636.2 207.6,635.8 196.1,569.1" fill="#E8707A" fill-opacity="0.75"/><polygon points="214.8,590.8 284.4,680.2 287.0,678.0 215.0,590.6" fill="#E8707A" fill-opacity="0.75"/><polygon points="222.9,608.3 217.7,704.7 221.1,704.9 223.1,608.3" fill="#E8707A" fill-opacity="0.75"/><polygon points="194.6,606.9 187.2,695.9 190.6,696.1 194.8,606.9" fill="#E8707A" fill-opacity="0.75"/><polygon points="185.8,603.4 153.0,685.3 156.2,686.5 186.0,603.6" fill="#E8707A" fill-opacity="0.75"/><polygon points="150.9,581.8 52.8,602.9 53.6,606.5 150.9,582.0" fill="#1C8CE0" fill-opacity="0.95"/><polygon points="135.5,580.7 101.4,637.9 104.6,639.6 135.7,580.9" fill="#1C8CE0" fill-opacity="0.95"/><polygon points="148.5,588.2 124.8,650.7 128.2,651.8 148.7,588.2" fill="#1C8CE0" fill-opacity="0.95"/><polygon points="151.6,561.0 241.7,618.7 243.5,615.7 151.8,560.8" fill="#1C8CE0" fill-opacity="0.95"/><clipPath id="c3"><rect x="0" y="860.4" width="330" height="212.9"/></clipPath><g clip-path="url(#c3)"><path d="M160.60,865.48 C158.56,865.48 156.53,865.47 154.49,865.48 C152.45,865.49 150.43,865.54 148.38,865.55 C146.33,865.56 144.28,865.54 142.22,865.55 C140.16,865.56 138.08,865.56 136.00,865.62 C133.92,865.68 131.84,865.75 129.75,865.89 C127.66,866.03 125.56,866.21 123.47,866.47 C121.38,866.73 119.28,867.05 117.20,867.45 C115.12,867.85 113.04,868.32 110.98,868.88 C108.92,869.43 106.85,870.07 104.82,870.78 C102.79,871.49 100.77,872.28 98.78,873.15 C96.79,874.02 94.82,874.98 92.88,876.01 C90.94,877.04 89.02,878.14 87.13,879.31 C85.24,880.48 83.39,881.72 81.57,883.03 C79.75,884.34 77.95,885.72 76.20,887.15 C74.45,888.58 72.73,890.08 71.04,891.62 C69.35,893.16 67.70,894.76 66.08,896.40 C64.46,898.04 62.88,899.72 61.33,901.45 C59.78,903.17 58.27,904.95 56.79,906.75 C55.31,908.55 53.86,910.39 52.44,912.26 C51.02,914.13 49.64,916.03 48.29,917.96 C46.94,919.89 45.62,921.84 44.33,923.82 C43.04,925.80 41.79,927.80 40.56,929.83 C39.33,931.86 38.13,933.91 36.97,935.98 C35.80,938.05 34.67,940.15 33.57,942.26 C32.47,944.37 31.40,946.50 30.36,948.66 C29.32,950.81 28.31,952.99 27.34,955.19 C26.37,957.39 25.43,959.60 24.53,961.84 C23.63,964.07 22.76,966.33 21.93,968.60 C21.10,970.87 20.31,973.16 19.56,975.47 C18.81,977.78 18.11,980.11 17.44,982.45 C16.78,984.79 16.15,987.15 15.57,989.52 C14.99,991.89 14.45,994.27 13.96,996.67 C13.47,999.07 13.02,1001.48 12.62,1003.90 C12.21,1006.32 11.85,1008.74 11.53,1011.17 C11.21,1013.60 10.93,1016.03 10.69,1018.47 C10.45,1020.91 10.24,1023.36 10.06,1025.80 C9.88,1028.24 9.74,1030.69 9.60,1033.13 C9.46,1035.57 9.36,1038.01 9.24,1040.46 C9.12,1042.90 8.91,1045.35 8.91,1047.80 C8.91,1050.25 9.12,1052.69 9.24,1055.14 C9.36,1057.59 9.46,1060.03 9.60,1062.47 C9.74,1064.91 9.88,1067.36 10.06,1069.80 C10.24,1072.24 10.45,1074.69 10.69,1077.13 C10.93,1079.57 11.21,1082.00 11.53,1084.43 C11.85,1086.86 12.21,1089.28 12.62,1091.70 C13.02,1094.12 13.47,1096.53 13.96,1098.93 C14.45,1101.33 14.99,1103.71 15.57,1106.08 C16.15,1108.45 16.78,1110.81 17.44,1113.15 C18.11,1115.49 18.81,1117.82 19.56,1120.13 C20.31,1122.44 21.10,1124.73 21.93,1127.00 C22.76,1129.27 23.63,1131.52 24.53,1133.76 C25.43,1135.99 26.37,1138.21 27.34,1140.41 C28.31,1142.61 29.32,1144.78 30.36,1146.94 C31.40,1149.09 32.47,1151.23 33.57,1153.34 C34.67,1155.45 35.80,1157.55 36.97,1159.62 C38.13,1161.69 39.33,1163.74 40.56,1165.77 C41.79,1167.80 43.04,1169.80 44.33,1171.78 C45.62,1173.76 46.94,1175.71 48.29,1177.64 C49.64,1179.57 51.02,1181.47 52.44,1183.34 C53.86,1185.21 55.31,1187.05 56.79,1188.85 C58.27,1190.65 59.78,1192.42 61.33,1194.15 C62.88,1195.88 64.46,1197.56 66.08,1199.20 C67.70,1200.84 69.35,1202.44 71.04,1203.98 C72.73,1205.52 74.45,1207.02 76.20,1208.45 C77.95,1209.88 79.75,1211.26 81.57,1212.57 C83.39,1213.88 85.24,1215.12 87.13,1216.29 C89.02,1217.46 90.94,1218.56 92.88,1219.59 C94.82,1220.62 96.79,1221.58 98.78,1222.45 C100.77,1223.32 102.79,1224.11 104.82,1224.82 C106.85,1225.53 108.92,1226.16 110.98,1226.72 C113.04,1227.27 115.12,1227.75 117.20,1228.15 C119.28,1228.55 121.38,1228.87 123.47,1229.13 C125.56,1229.39 127.66,1229.57 129.75,1229.71 C131.84,1229.85 133.92,1229.92 136.00,1229.98 C138.08,1230.04 140.16,1230.04 142.22,1230.05 C144.28,1230.06 146.33,1230.04 148.38,1230.05 C150.43,1230.06 152.45,1230.11 154.49,1230.12 C156.53,1230.13 158.56,1230.12 160.60,1230.12 C162.64,1230.12 164.67,1230.13 166.71,1230.12 C168.75,1230.11 170.77,1230.06 172.82,1230.05 C174.87,1230.04 176.92,1230.06 178.98,1230.05 C181.04,1230.04 183.12,1230.04 185.20,1229.98 C187.28,1229.92 189.36,1229.85 191.45,1229.71 C193.54,1229.57 195.64,1229.39 197.73,1229.13 C199.82,1228.87 201.92,1228.55 204.00,1228.15 C206.08,1227.75 208.16,1227.27 210.22,1226.72 C212.28,1226.16 214.35,1225.53 216.38,1224.82 C218.41,1224.11 220.43,1223.32 222.42,1222.45 C224.41,1221.58 226.38,1220.62 228.32,1219.59 C230.26,1218.56 232.19,1217.46 234.07,1216.29 C235.95,1215.12 237.81,1213.88 239.63,1212.57 C241.45,1211.26 243.25,1209.88 245.00,1208.45 C246.75,1207.02 248.47,1205.52 250.16,1203.98 C251.85,1202.44 253.50,1200.84 255.12,1199.20 C256.74,1197.56 258.32,1195.88 259.87,1194.15 C261.42,1192.42 262.93,1190.65 264.41,1188.85 C265.89,1187.05 267.34,1185.21 268.76,1183.34 C270.18,1181.47 271.56,1179.57 272.91,1177.64 C274.26,1175.71 275.58,1173.76 276.87,1171.78 C278.16,1169.80 279.41,1167.80 280.64,1165.77 C281.87,1163.74 283.06,1161.69 284.23,1159.62 C285.40,1157.55 286.53,1155.45 287.63,1153.34 C288.73,1151.23 289.80,1149.09 290.84,1146.94 C291.88,1144.78 292.89,1142.61 293.86,1140.41 C294.83,1138.21 295.77,1135.99 296.67,1133.76 C297.57,1131.52 298.44,1129.27 299.27,1127.00 C300.10,1124.73 300.89,1122.44 301.64,1120.13 C302.39,1117.82 303.09,1115.49 303.76,1113.15 C304.43,1110.81 305.05,1108.45 305.63,1106.08 C306.21,1103.71 306.75,1101.33 307.24,1098.93 C307.73,1096.53 308.17,1094.12 308.58,1091.70 C308.99,1089.28 309.35,1086.86 309.67,1084.43 C309.99,1082.00 310.26,1079.57 310.51,1077.13 C310.75,1074.69 310.96,1072.24 311.14,1069.80 C311.32,1067.36 311.46,1064.91 311.60,1062.47 C311.74,1060.03 311.84,1057.59 311.96,1055.14 C312.07,1052.69 312.29,1050.25 312.29,1047.80 C312.29,1045.35 312.07,1042.90 311.96,1040.46 C311.84,1038.01 311.74,1035.57 311.60,1033.13 C311.46,1030.69 311.32,1028.24 311.14,1025.80 C310.96,1023.36 310.75,1020.91 310.51,1018.47 C310.26,1016.03 309.99,1013.60 309.67,1011.17 C309.35,1008.74 308.99,1006.32 308.58,1003.90 C308.17,1001.48 307.73,999.07 307.24,996.67 C306.75,994.27 306.21,991.89 305.63,989.52 C305.05,987.15 304.43,984.79 303.76,982.45 C303.09,980.11 302.39,977.78 301.64,975.47 C300.89,973.16 300.10,970.87 299.27,968.60 C298.44,966.33 297.57,964.07 296.67,961.84 C295.77,959.60 294.83,957.39 293.86,955.19 C292.89,952.99 291.88,950.81 290.84,948.66 C289.80,946.50 288.73,944.37 287.63,942.26 C286.53,940.15 285.40,938.05 284.23,935.98 C283.06,933.91 281.87,931.86 280.64,929.83 C279.41,927.80 278.16,925.80 276.87,923.82 C275.58,921.84 274.26,919.89 272.91,917.96 C271.56,916.03 270.18,914.13 268.76,912.26 C267.34,910.39 265.89,908.55 264.41,906.75 C262.93,904.95 261.42,903.17 259.87,901.45 C258.32,899.72 256.74,898.04 255.12,896.40 C253.50,894.76 251.85,893.16 250.16,891.62 C248.47,890.08 246.75,888.58 245.00,887.15 C243.25,885.72 241.45,884.34 239.63,883.03 C237.81,881.72 235.95,880.48 234.07,879.31 C232.19,878.14 230.26,877.04 228.32,876.01 C226.38,874.98 224.41,874.02 222.42,873.15 C220.43,872.28 218.41,871.49 216.38,870.78 C214.35,870.07 212.28,869.43 210.22,868.88 C208.16,868.32 206.08,867.85 204.00,867.45 C201.92,867.05 199.82,866.73 197.73,866.47 C195.64,866.21 193.54,866.03 191.45,865.89 C189.36,865.75 187.28,865.68 185.20,865.62 C183.12,865.56 181.04,865.56 178.98,865.55 C176.92,865.54 174.87,865.56 172.82,865.55 C170.77,865.54 168.75,865.49 166.71,865.48 C164.67,865.47 162.64,865.48 160.60,865.48 Z" fill="none" stroke="#8E8E86" stroke-width="1.3"/><rect x="153.5" y="865.40" width="14.1" height="19.6" fill="none" stroke="#8E8E86" stroke-width="1.3"/><rect x="153.5" y="1210.60" width="14.1" height="19.6" fill="none" stroke="#8E8E86" stroke-width="1.3"/><path d="M60.50,906.48 A108.2,108.2 0 0 0 260.70,906.48" fill="none" stroke="#8E8E86" stroke-width="1.3"/><path d="M60.50,1189.12 A108.2,108.2 0 0 1 260.70,1189.12" fill="none" stroke="#8E8E86" stroke-width="1.3"/><rect x="106.6" y="994.00" width="108" height="107.6" fill="none" stroke="#8E8E86" stroke-width="1.3"/></g><path d="M141.3,894.4 L144.9,898 L141.3,901.6 L137.70000000000002,898 Z" fill="none" stroke="#1C8CE0" stroke-width="1.5"/><path d="M191.1,889.8 L194.7,893.4 L191.1,897.0 L187.5,893.4 Z" fill="none" stroke="#1C8CE0" stroke-width="1.5"/><path d="M160.4,909.5 L164.0,913.1 L160.4,916.7 L156.8,913.1 Z" fill="none" stroke="#1C8CE0" stroke-width="1.5"/><path d="M195.1,911.6999999999999 L198.7,915.3 L195.1,918.9 L191.5,915.3 Z" fill="none" stroke="#1C8CE0" stroke-width="1.5"/><path d="M225.9,907.1 L229.5,910.7 L225.9,914.3000000000001 L222.3,910.7 Z" fill="none" stroke="#1C8CE0" stroke-width="1.5"/><path d="M145.3,926.8 L148.9,930.4 L145.3,934.0 L141.70000000000002,930.4 Z" fill="none" stroke="#1C8CE0" stroke-width="1.5"/><path d="M128.2,956.6999999999999 L131.79999999999998,960.3 L128.2,963.9 L124.6,960.3 Z" fill="none" stroke="#1C8CE0" stroke-width="1.5"/><path d="M145.5,961.6999999999999 L149.1,965.3 L145.5,968.9 L141.9,965.3 Z" fill="none" stroke="#1C8CE0" stroke-width="1.5"/><path d="M145.5,960.4 L149.1,964 L145.5,967.6 L141.9,964 Z" fill="none" stroke="#1C8CE0" stroke-width="1.5"/><path d="M145.9,962.9 L149.5,966.5 L145.9,970.1 L142.3,966.5 Z" fill="none" stroke="#1C8CE0" stroke-width="1.5"/><path d="M130.6,967.4 L134.2,971 L130.6,974.6 L127.0,971 Z" fill="none" stroke="#1C8CE0" stroke-width="1.5"/><path d="M227.8,898.4 L231.4,902 L227.8,905.6 L224.20000000000002,902 Z" fill="none" stroke="#555555" stroke-width="1.5"/><path d="M123.8,913.8 L127.39999999999999,917.4 L123.8,921.0 L120.2,917.4 Z" fill="none" stroke="#555555" stroke-width="1.5"/><path d="M199.6,937.0 L203.2,940.6 L199.6,944.2 L196.0,940.6 Z" fill="none" stroke="#555555" stroke-width="1.5"/><circle cx="165" cy="885.4" r="1.6" fill="#1C8CE0"/><circle cx="163.1" cy="908.6" r="1.6" fill="#1C8CE0"/><circle cx="178.3" cy="917.1" r="1.6" fill="#1C8CE0"/><circle cx="147.7" cy="923.3" r="1.6" fill="#555555"/><circle cx="173.8" cy="925.6" r="1.6" fill="#555555"/><circle cx="149.9" cy="943" r="1.6" fill="#E0203C"/><circle cx="178.1" cy="949.4" r="1.6" fill="#E0203C"/><circle cx="164.8" cy="970.7" r="1.6" fill="#E0203C"/><rect x="730.6" y="70" width="452.9" height="30.700000000000003" fill="#1B1A40"/><rect x="730.6" y="99.50" width="452.9" height="2.4" fill="#111"/><rect x="730.6" y="125.90" width="452.9" height="2.4" fill="#111"/><rect x="730.6" y="153.20" width="452.9" height="2.4" fill="#111"/><rect x="730.6" y="180.70" width="452.9" height="2.4" fill="#111"/><rect x="730.6" y="207.20" width="452.9" height="2.4" fill="#111"/><rect x="730.30" y="99.50" width="2.4" height="110.10" fill="#111"/><rect x="890.20" y="99.50" width="2.4" height="110.10" fill="#111"/><rect x="1027.70" y="99.50" width="2.4" height="110.10" fill="#111"/><rect x="1181.40" y="99.50" width="2.4" height="110.10" fill="#111"/><rect x="731.5" y="70.9" width="451.09999999999997" height="137.79999999999998" fill="none" stroke="#111" stroke-width="1.8"/><text x="777.1" y="93.6" font-size="22.0" fill="#FEFEE8" stroke="#FEFEE8" stroke-width="0.53" text-anchor="start" font-weight="normal" textLength="359.5" lengthAdjust="spacingAndGlyphs">INTERCEPT SOURCE AND SCORING</text><text x="790.7" y="122.3" font-size="22.1" fill="#1C8FE0" stroke="#1C8FE0" stroke-width="0.53" text-anchor="start" font-weight="normal" textLength="40.9" lengthAdjust="spacingAndGlyphs">9 . 4</text><text x="918.6" y="122.3" font-size="22.1" fill="#1C8FE0" stroke="#1C8FE0" stroke-width="0.53" text-anchor="start" font-weight="normal" textLength="83.6" lengthAdjust="spacingAndGlyphs">SCORES</text><text x="1086.4" y="122.3" font-size="22.1" fill="#1C8FE0" stroke="#1C8FE0" stroke-width="0.53" text-anchor="start" font-weight="normal" textLength="40.0" lengthAdjust="spacingAndGlyphs">2 . 8</text><text x="923.5" y="149.3" font-size="22.1" fill="#606060" stroke="#606060" stroke-width="0.53" text-anchor="start" font-weight="normal" textLength="73.5" lengthAdjust="spacingAndGlyphs">MARKS</text><text x="789.0" y="176.6" font-size="22.1" fill="#606060" stroke="#606060" stroke-width="0.53" text-anchor="start" font-weight="normal" textLength="22.2" lengthAdjust="spacingAndGlyphs">[F]</text><text x="819.5" y="176.6" font-size="22.1" fill="#606060" stroke="#606060" stroke-width="0.53" text-anchor="start" font-weight="normal" textLength="17.0" lengthAdjust="spacingAndGlyphs">11</text><text x="899.3" y="176.6" font-size="22.1" fill="#606060" stroke="#606060" stroke-width="0.53" text-anchor="start" font-weight="normal" textLength="122.2" lengthAdjust="spacingAndGlyphs">FREE KICKS</text><text x="1085.5" y="176.6" font-size="22.1" fill="#606060" stroke="#606060" stroke-width="0.53" text-anchor="start" font-weight="normal" textLength="22.2" lengthAdjust="spacingAndGlyphs">[F]</text><text x="1116.8" y="176.6" font-size="22.1" fill="#606060" stroke="#606060" stroke-width="0.53" text-anchor="start" font-weight="normal" textLength="12.4" lengthAdjust="spacingAndGlyphs">4</text><text x="800.0" y="203.5" font-size="22.1" fill="#606060" stroke="#606060" stroke-width="0.53" text-anchor="start" font-weight="normal" textLength="22.0" lengthAdjust="spacingAndGlyphs">57</text><text x="912.4" y="203.5" font-size="22.1" fill="#606060" stroke="#606060" stroke-width="0.53" text-anchor="start" font-weight="normal" textLength="96.0" lengthAdjust="spacingAndGlyphs">GATHERS</text><text x="1094.9" y="203.5" font-size="22.1" fill="#606060" stroke="#606060" stroke-width="0.53" text-anchor="start" font-weight="normal" textLength="22.1" lengthAdjust="spacingAndGlyphs">60</text><text x="785.0" y="149.3" font-size="23.5" fill="#606060" stroke="#606060" stroke-width="0.4" text-anchor="start" font-weight="normal">[</text><circle cx="796.8000000000001" cy="142.8" r="2.4" fill="none" stroke="#a8a8a8" stroke-width="0.9"/><path d="M796.8000000000001,137.10000000000002 V148.5 M792.2,142.8 H801.4000000000001" stroke="#a8a8a8" stroke-width="0.9"/><text x="802.0" y="149.3" font-size="23.5" fill="#606060" stroke="#606060" stroke-width="0.4" text-anchor="start" font-weight="normal">]</text><text x="817.9" y="149.3" font-size="22.1" fill="#606060" stroke="#606060" stroke-width="0.53" text-anchor="start" font-weight="normal" textLength="19.4" lengthAdjust="spacingAndGlyphs">12</text><text x="1077.6" y="149.3" font-size="23.5" fill="#606060" stroke="#606060" stroke-width="0.4" text-anchor="start" font-weight="normal">[</text><circle cx="1089.4" cy="142.8" r="2.4" fill="none" stroke="#a8a8a8" stroke-width="0.9"/><path d="M1089.4,137.10000000000002 V148.5 M1084.8000000000002,142.8 H1094.0" stroke="#a8a8a8" stroke-width="0.9"/><text x="1094.6" y="149.3" font-size="23.5" fill="#606060" stroke="#606060" stroke-width="0.4" text-anchor="start" font-weight="normal">]</text><text x="1110.5" y="149.3" font-size="22.1" fill="#606060" stroke="#606060" stroke-width="0.53" text-anchor="start" font-weight="normal" textLength="19.4" lengthAdjust="spacingAndGlyphs">23</text><rect x="336.9" y="572.4" width="431.1" height="31.600000000000023" fill="#1B1A40"/><rect x="336.9" y="602.80" width="431.1" height="2.4" fill="#111"/><rect x="336.9" y="629.40" width="431.1" height="2.4" fill="#111"/><rect x="336.9" y="657.00" width="431.1" height="2.4" fill="#111"/><rect x="336.9" y="683.90" width="431.1" height="2.4" fill="#111"/><rect x="336.9" y="710.30" width="431.1" height="2.4" fill="#111"/><rect x="336.60" y="602.80" width="2.4" height="109.90" fill="#111"/><rect x="484.50" y="602.80" width="2.4" height="109.90" fill="#111"/><rect x="575.30" y="602.80" width="2.4" height="109.90" fill="#111"/><rect x="691.30" y="602.80" width="2.4" height="109.90" fill="#111"/><rect x="765.90" y="602.80" width="2.4" height="109.90" fill="#111"/><rect x="337.79999999999995" y="573.3" width="429.3" height="138.50000000000006" fill="none" stroke="#111" stroke-width="1.8"/><text x="364.3" y="596.0" font-size="22.0" fill="#FEFEE8" stroke="#FEFEE8" stroke-width="0.53" text-anchor="start" font-weight="normal" textLength="376.5" lengthAdjust="spacingAndGlyphs">m FROM GOAL POSSESSION GAINED</text><text x="352.9" y="624.6" font-size="22.1" fill="#606060" stroke="#606060" stroke-width="0.53" text-anchor="start" font-weight="normal" textLength="117.9" lengthAdjust="spacingAndGlyphs">i50 RESULT</text><text x="492.4" y="624.6" font-size="22.1" fill="#606060" stroke="#606060" stroke-width="0.53" text-anchor="start" font-weight="normal" textLength="77.3" lengthAdjust="spacingAndGlyphs">50–75m</text><text x="591.7" y="624.6" font-size="22.1" fill="#606060" stroke="#606060" stroke-width="0.53" text-anchor="start" font-weight="normal" textLength="85.4" lengthAdjust="spacingAndGlyphs">75–100m</text><text x="698.6" y="624.6" font-size="22.1" fill="#606060" stroke="#606060" stroke-width="0.53" text-anchor="start" font-weight="normal" textLength="62.9" lengthAdjust="spacingAndGlyphs">100m+</text><text x="343.9" y="652.0" font-size="22.1" fill="#1C8FE0" stroke="#1C8FE0" stroke-width="0.53" text-anchor="start" font-weight="normal" textLength="135.6" lengthAdjust="spacingAndGlyphs">MARK / FREE</text><text x="350.9" y="679.0" font-size="22.1" fill="#606060" stroke="#606060" stroke-width="0.53" text-anchor="start" font-weight="normal" textLength="120.4" lengthAdjust="spacingAndGlyphs">CONTESTED</text><text x="354.5" y="706.3" font-size="22.1" fill="#AE2738" stroke="#AE2738" stroke-width="0.53" text-anchor="start" font-weight="normal" textLength="112.4" lengthAdjust="spacingAndGlyphs">TURNOVER</text><text x="531.0" y="652.0" font-size="22.1" fill="#1C8FE0" stroke="#1C8FE0" stroke-width="0.53" text-anchor="middle" font-weight="normal">3</text><text x="634.6" y="652.0" font-size="22.1" fill="#1C8FE0" stroke="#1C8FE0" stroke-width="0.53" text-anchor="middle" font-weight="normal">0</text><text x="730.5" y="652.0" font-size="22.1" fill="#1C8FE0" stroke="#1C8FE0" stroke-width="0.53" text-anchor="middle" font-weight="normal">1</text><text x="531.0" y="679.0" font-size="22.1" fill="#606060" stroke="#606060" stroke-width="0.53" text-anchor="middle" font-weight="normal">8</text><text x="634.6" y="679.0" font-size="22.1" fill="#606060" stroke="#606060" stroke-width="0.53" text-anchor="middle" font-weight="normal">21</text><text x="730.5" y="679.0" font-size="22.1" fill="#606060" stroke="#606060" stroke-width="0.53" text-anchor="middle" font-weight="normal">9</text><text x="531.0" y="706.3" font-size="22.1" fill="#AE2738" stroke="#AE2738" stroke-width="0.53" text-anchor="middle" font-weight="normal">0</text><text x="634.6" y="706.3" font-size="22.1" fill="#AE2738" stroke="#AE2738" stroke-width="0.53" text-anchor="middle" font-weight="normal">7</text><text x="730.5" y="706.3" font-size="22.1" fill="#AE2738" stroke="#AE2738" stroke-width="0.53" text-anchor="middle" font-weight="normal">2</text><rect x="1146.4" y="572.4" width="431.0999999999999" height="31.600000000000023" fill="#1B1A40"/><rect x="1146.4" y="602.80" width="431.0999999999999" height="2.4" fill="#111"/><rect x="1146.4" y="629.40" width="431.0999999999999" height="2.4" fill="#111"/><rect x="1146.4" y="657.00" width="431.0999999999999" height="2.4" fill="#111"/><rect x="1146.4" y="683.90" width="431.0999999999999" height="2.4" fill="#111"/><rect x="1146.4" y="710.30" width="431.0999999999999" height="2.4" fill="#111"/><rect x="1146.10" y="602.80" width="2.4" height="109.90" fill="#111"/><rect x="1294.00" y="602.80" width="2.4" height="109.90" fill="#111"/><rect x="1384.80" y="602.80" width="2.4" height="109.90" fill="#111"/><rect x="1500.80" y="602.80" width="2.4" height="109.90" fill="#111"/><rect x="1575.40" y="602.80" width="2.4" height="109.90" fill="#111"/><rect x="1147.3000000000002" y="573.3" width="429.2999999999999" height="138.50000000000006" fill="none" stroke="#111" stroke-width="1.8"/><text x="1173.8" y="596.0" font-size="22.0" fill="#FEFEE8" stroke="#FEFEE8" stroke-width="0.53" text-anchor="start" font-weight="normal" textLength="376.5" lengthAdjust="spacingAndGlyphs">m FROM GOAL POSSESSION GAINED</text><text x="1162.4" y="624.6" font-size="22.1" fill="#606060" stroke="#606060" stroke-width="0.53" text-anchor="start" font-weight="normal" textLength="117.9" lengthAdjust="spacingAndGlyphs">i50 RESULT</text><text x="1301.9" y="624.6" font-size="22.1" fill="#606060" stroke="#606060" stroke-width="0.53" text-anchor="start" font-weight="normal" textLength="77.3" lengthAdjust="spacingAndGlyphs">50–75m</text><text x="1401.2" y="624.6" font-size="22.1" fill="#606060" stroke="#606060" stroke-width="0.53" text-anchor="start" font-weight="normal" textLength="85.4" lengthAdjust="spacingAndGlyphs">75–100m</text><text x="1508.1" y="624.6" font-size="22.1" fill="#606060" stroke="#606060" stroke-width="0.53" text-anchor="start" font-weight="normal" textLength="62.9" lengthAdjust="spacingAndGlyphs">100m+</text><text x="1153.4" y="652.0" font-size="22.1" fill="#1C8FE0" stroke="#1C8FE0" stroke-width="0.53" text-anchor="start" font-weight="normal" textLength="135.6" lengthAdjust="spacingAndGlyphs">MARK / FREE</text><text x="1160.4" y="679.0" font-size="22.1" fill="#606060" stroke="#606060" stroke-width="0.53" text-anchor="start" font-weight="normal" textLength="120.4" lengthAdjust="spacingAndGlyphs">CONTESTED</text><text x="1164.0" y="706.3" font-size="22.1" fill="#AE2738" stroke="#AE2738" stroke-width="0.53" text-anchor="start" font-weight="normal" textLength="112.4" lengthAdjust="spacingAndGlyphs">TURNOVER</text><text x="1340.5" y="652.0" font-size="22.1" fill="#1C8FE0" stroke="#1C8FE0" stroke-width="0.53" text-anchor="middle" font-weight="normal">0</text><text x="1340.5" y="679.0" font-size="22.1" fill="#606060" stroke="#606060" stroke-width="0.53" text-anchor="middle" font-weight="normal">5</text><text x="1340.5" y="706.3" font-size="22.1" fill="#AE2738" stroke="#AE2738" stroke-width="0.53" text-anchor="middle" font-weight="normal">2</text><rect x="332.4" y="896.5" width="440.4" height="31.100000000000023" fill="#1B1A40"/><rect x="332.4" y="926.40" width="440.4" height="2.4" fill="#111"/><rect x="332.4" y="952.90" width="440.4" height="2.4" fill="#111"/><rect x="332.4" y="980.30" width="440.4" height="2.4" fill="#111"/><rect x="332.4" y="1007.60" width="440.4" height="2.4" fill="#111"/><rect x="332.4" y="1033.60" width="440.4" height="2.4" fill="#111"/><rect x="332.10" y="926.40" width="2.4" height="109.60" fill="#111"/><rect x="479.20" y="926.40" width="2.4" height="109.60" fill="#111"/><rect x="616.60" y="926.40" width="2.4" height="109.60" fill="#111"/><rect x="770.70" y="926.40" width="2.4" height="109.60" fill="#111"/><rect x="333.29999999999995" y="897.4" width="438.59999999999997" height="137.7" fill="none" stroke="#111" stroke-width="1.8"/><text x="468.4" y="919.7" font-size="22.0" fill="#FEFEE8" stroke="#FEFEE8" stroke-width="0.53" text-anchor="start" font-weight="normal" textLength="168.7" lengthAdjust="spacingAndGlyphs">SHOTS ON GOAL</text><text x="340.5" y="948.0" font-size="16.0" fill="#606060" stroke="#606060" stroke-width="0.38" text-anchor="start" font-weight="normal" textLength="12.6" lengthAdjust="spacingAndGlyphs">◇</text><text x="362.9" y="948.0" font-size="22.1" fill="#606060" stroke="#606060" stroke-width="0.53" text-anchor="start" font-weight="normal" textLength="110.7" lengthAdjust="spacingAndGlyphs">SET SHOTS</text><text x="643.9" y="948.0" font-size="22.1" fill="#606060" stroke="#606060" stroke-width="0.53" text-anchor="start" font-weight="normal" textLength="81.1" lengthAdjust="spacingAndGlyphs">IN PLAY</text><circle cx="740.5" cy="941.2" r="5" fill="#606060"/><text x="514.3" y="975.4" font-size="22.1" fill="#1C8FE0" stroke="#1C8FE0" stroke-width="0.53" text-anchor="start" font-weight="normal" textLength="69.9" lengthAdjust="spacingAndGlyphs">GOALS</text><text x="502.4" y="1002.7" font-size="22.1" fill="#606060" stroke="#606060" stroke-width="0.53" text-anchor="start" font-weight="normal" textLength="93.8" lengthAdjust="spacingAndGlyphs">BEHINDS</text><text x="495.6" y="1030.0" font-size="22.1" fill="#AE2738" stroke="#AE2738" stroke-width="0.53" text-anchor="start" font-weight="normal" textLength="107.4" lengthAdjust="spacingAndGlyphs">NO SCORE</text><text x="405.9" y="975.4" font-size="22.1" fill="#1C8FE0" stroke="#1C8FE0" stroke-width="0.53" text-anchor="middle" font-weight="normal">10</text><text x="695.0" y="975.4" font-size="22.1" fill="#1C8FE0" stroke="#1C8FE0" stroke-width="0.53" text-anchor="middle" font-weight="normal">3</text><text x="405.9" y="1002.7" font-size="22.1" fill="#606060" stroke="#606060" stroke-width="0.53" text-anchor="middle" font-weight="normal">3</text><text x="695.0" y="1002.7" font-size="22.1" fill="#606060" stroke="#606060" stroke-width="0.53" text-anchor="middle" font-weight="normal">2</text><text x="405.9" y="1030.0" font-size="22.1" fill="#AE2738" stroke="#AE2738" stroke-width="0.53" text-anchor="middle" font-weight="normal">0</text><text x="695.0" y="1030.0" font-size="22.1" fill="#AE2738" stroke="#AE2738" stroke-width="0.53" text-anchor="middle" font-weight="normal">3</text><rect x="1142.1999999999998" y="896.5" width="440.4000000000001" height="31.100000000000023" fill="#1B1A40"/><rect x="1142.1999999999998" y="926.40" width="440.4000000000001" height="2.4" fill="#111"/><rect x="1142.1999999999998" y="952.90" width="440.4000000000001" height="2.4" fill="#111"/><rect x="1142.1999999999998" y="980.30" width="440.4000000000001" height="2.4" fill="#111"/><rect x="1142.1999999999998" y="1007.60" width="440.4000000000001" height="2.4" fill="#111"/><rect x="1142.1999999999998" y="1033.60" width="440.4000000000001" height="2.4" fill="#111"/><rect x="1141.90" y="926.40" width="2.4" height="109.60" fill="#111"/><rect x="1289.00" y="926.40" width="2.4" height="109.60" fill="#111"/><rect x="1426.40" y="926.40" width="2.4" height="109.60" fill="#111"/><rect x="1580.50" y="926.40" width="2.4" height="109.60" fill="#111"/><rect x="1143.1" y="897.4" width="438.6000000000001" height="137.7" fill="none" stroke="#111" stroke-width="1.8"/><text x="1278.2" y="919.7" font-size="22.0" fill="#FEFEE8" stroke="#FEFEE8" stroke-width="0.53" text-anchor="start" font-weight="normal" textLength="168.7" lengthAdjust="spacingAndGlyphs">SHOTS ON GOAL</text><text x="1150.3" y="948.0" font-size="16.0" fill="#606060" stroke="#606060" stroke-width="0.38" text-anchor="start" font-weight="normal" textLength="12.6" lengthAdjust="spacingAndGlyphs">◇</text><text x="1172.7" y="948.0" font-size="22.1" fill="#606060" stroke="#606060" stroke-width="0.53" text-anchor="start" font-weight="normal" textLength="110.7" lengthAdjust="spacingAndGlyphs">SET SHOTS</text><text x="1453.7" y="948.0" font-size="22.1" fill="#606060" stroke="#606060" stroke-width="0.53" text-anchor="start" font-weight="normal" textLength="81.1" lengthAdjust="spacingAndGlyphs">IN PLAY</text><circle cx="1550.3" cy="941.2" r="5" fill="#606060"/><text x="1324.1" y="975.4" font-size="22.1" fill="#1C8FE0" stroke="#1C8FE0" stroke-width="0.53" text-anchor="start" font-weight="normal" textLength="69.9" lengthAdjust="spacingAndGlyphs">GOALS</text><text x="1312.2" y="1002.7" font-size="22.1" fill="#606060" stroke="#606060" stroke-width="0.53" text-anchor="start" font-weight="normal" textLength="93.8" lengthAdjust="spacingAndGlyphs">BEHINDS</text><text x="1305.4" y="1030.0" font-size="22.1" fill="#AE2738" stroke="#AE2738" stroke-width="0.53" text-anchor="start" font-weight="normal" textLength="107.4" lengthAdjust="spacingAndGlyphs">NO SCORE</text><text x="1215.7" y="975.4" font-size="22.1" fill="#1C8FE0" stroke="#1C8FE0" stroke-width="0.53" text-anchor="middle" font-weight="normal">2</text><text x="1215.7" y="1002.7" font-size="22.1" fill="#606060" stroke="#606060" stroke-width="0.53" text-anchor="middle" font-weight="normal">3</text><text x="1215.7" y="1030.0" font-size="22.1" fill="#AE2738" stroke="#AE2738" stroke-width="0.53" text-anchor="middle" font-weight="normal">0</text><rect x="522.5" y="326.4" width="410.4" height="30" fill="#1B1A40"/><rect x="524.70" y="328.6" width="40.90" height="25.6" fill="#4472C4"/><rect x="565.30" y="328.6" width="101.80" height="25.6" fill="#70AD47"/><rect x="666.80" y="328.6" width="122.10" height="25.6" fill="#FFC000"/><rect x="788.60" y="328.6" width="101.80" height="25.6" fill="#ED7D31"/><rect x="890.10" y="328.6" width="40.90" height="25.6" fill="#A9323C"/><rect x="987.5" y="326.4" width="410.5" height="30" fill="#1B1A40"/><rect x="989.70" y="328.6" width="40.91" height="25.6" fill="#A9323C"/><rect x="1030.31" y="328.6" width="101.83" height="25.6" fill="#ED7D31"/><rect x="1131.84" y="328.6" width="122.13" height="25.6" fill="#FFC000"/><rect x="1253.66" y="328.6" width="101.83" height="25.6" fill="#70AD47"/><rect x="1355.19" y="328.6" width="40.91" height="25.6" fill="#4472C4"/><polygon points="519.4,318.2 547.4,318.2 533.4,341.6" fill="#fff" stroke="#111" stroke-width="1.6" stroke-linejoin="miter"/><polygon points="702.6,364.4 729.4,364.4 716.0,341.2" fill="#fff" stroke="#111" stroke-width="1.6" stroke-linejoin="miter"/><polygon points="1194.8,318.6 1222.4,318.6 1208.6,341" fill="#fff" stroke="#111" stroke-width="1.6" stroke-linejoin="miter"/><polygon points="988.2,365 1015.2,365 1001.7,341.6" fill="#fff" stroke="#111" stroke-width="1.6" stroke-linejoin="miter"/><text x="767.3" y="287.8" font-size="23.7" fill="#111" stroke="#111" stroke-width="0.57" text-anchor="start" font-weight="normal" textLength="386.0" lengthAdjust="spacingAndGlyphs">INTERCEPT GENERATION RATING</text><text x="760.4" y="413.3" font-size="23.7" fill="#111" stroke="#111" stroke-width="0.57" text-anchor="start" font-weight="normal" textLength="398.9" lengthAdjust="spacingAndGlyphs">ATTACK FROM INTERCEPT RATING</text><text x="645.9" y="317.3" font-size="24.3" fill="#4472C4" stroke="#4472C4" stroke-width="0.58" text-anchor="start" font-weight="normal" textLength="162.3" lengthAdjust="spacingAndGlyphs">+40.04 [ELITE]</text><text x="632.7" y="383.2" font-size="24.3" fill="#F5B400" stroke="#F5B400" stroke-width="0.58" text-anchor="start" font-weight="normal" textLength="188.7" lengthAdjust="spacingAndGlyphs">-0.81 [AVERAGE]</text><text x="1095.5" y="317.3" font-size="24.3" fill="#F5B400" stroke="#F5B400" stroke-width="0.58" text-anchor="start" font-weight="normal" textLength="194.1" lengthAdjust="spacingAndGlyphs">+6.47 [AVERAGE]</text><text x="1111.0" y="383.2" font-size="24.3" fill="#A9323C" stroke="#A9323C" stroke-width="0.58" text-anchor="start" font-weight="normal" textLength="163.0" lengthAdjust="spacingAndGlyphs">-44.54 [POOR]</text><text x="692.3" y="446.3" font-size="12.2" fill="#666666" stroke="#666666" stroke-width="0.42" text-anchor="start" font-weight="normal" textLength="50.9" lengthAdjust="spacingAndGlyphs">intercept</text><rect x="747.7" y="436.1" width="1.5" height="12.2" fill="#1B1A40"/><text x="754.5" y="446.3" font-size="12.2" fill="#2593E0" stroke="#2593E0" stroke-width="0.42" text-anchor="start" font-weight="normal" textLength="148.2" lengthAdjust="spacingAndGlyphs">intercept leading to score</text><rect x="907.7" y="436.1" width="1.5" height="12.2" fill="#1B1A40"/><text x="927.5" y="446.3" font-size="12.2" fill="#666666" stroke="#666666" stroke-width="0.42" text-anchor="start" font-weight="normal" textLength="126.2" lengthAdjust="spacingAndGlyphs">- intercept from mark</text><rect x="1058.6" y="436.1" width="1.5" height="12.2" fill="#1B1A40"/><text x="1065.6" y="446.3" font-size="12.2" fill="#666666" stroke="#666666" stroke-width="0.42" text-anchor="start" font-weight="normal" textLength="156.6" lengthAdjust="spacingAndGlyphs">F - intercept from free kick</text><path d="M918.6,438.90000000000003 L922.0,442.3 L918.6,445.7 L915.2,442.3 Z M918.6,438.90000000000003 V445.7 M915.2,442.3 H922.0" fill="none" stroke="#aaa" stroke-width="0.9"/><text x="504.0" y="797.2" font-size="12.2" fill="#2593E0" stroke="#2593E0" stroke-width="0.42" text-anchor="start" font-weight="normal" textLength="264.8" lengthAdjust="spacingAndGlyphs">i50 kick directly resulting in mark or free kick</text><rect x="773.9" y="787.0" width="1.5" height="12.2" fill="#1B1A40"/><text x="780.3" y="797.2" font-size="12.2" fill="#B3303F" stroke="#B3303F" stroke-width="0.42" text-anchor="start" font-weight="normal" textLength="214.2" lengthAdjust="spacingAndGlyphs">i50 kick directly resulting in turnover</text><rect x="999.5" y="787.0" width="1.5" height="12.2" fill="#1B1A40"/><text x="1006.6" y="797.2" font-size="12.2" fill="#666666" stroke="#666666" stroke-width="0.42" text-anchor="start" font-weight="normal" textLength="189.0" lengthAdjust="spacingAndGlyphs">i50 kick leading to contested ball</text><rect x="1200.5" y="787.0" width="1.5" height="12.2" fill="#1B1A40"/><text x="1208.0" y="797.2" font-size="12.2" fill="#666666" stroke="#666666" stroke-width="0.42" text-anchor="start" font-weight="normal" textLength="123.8" lengthAdjust="spacingAndGlyphs">place kick taken from</text><text x="1349.2" y="797.2" font-size="12.2" fill="#666666" stroke="#666666" stroke-width="0.42" text-anchor="start" font-weight="normal" textLength="61.8" lengthAdjust="spacingAndGlyphs">kick target</text><polygon points="1338,788.2 1344.5,792.7 1338,797.2" fill="#666666"/><text x="764.5" y="1093.8" font-size="12.2" fill="#2593E0" stroke="#2593E0" stroke-width="0.42" text-anchor="start" font-weight="normal" textLength="23.5" lengthAdjust="spacingAndGlyphs">goal</text><rect x="792.9" y="1083.6" width="1.5" height="12.2" fill="#1B1A40"/><text x="799.6" y="1093.8" font-size="12.2" fill="#666666" stroke="#666666" stroke-width="0.42" text-anchor="start" font-weight="normal" textLength="38.2" lengthAdjust="spacingAndGlyphs">behind</text><rect x="842.4" y="1083.6" width="1.5" height="12.2" fill="#1B1A40"/><text x="849.3" y="1093.8" font-size="12.2" fill="#B3303F" stroke="#B3303F" stroke-width="0.42" text-anchor="start" font-weight="normal" textLength="74.8" lengthAdjust="spacingAndGlyphs">did not score</text><rect x="928.7" y="1083.6" width="1.5" height="12.2" fill="#1B1A40"/><text x="948.3" y="1093.8" font-size="12.2" fill="#666666" stroke="#666666" stroke-width="0.42" text-anchor="start" font-weight="normal" textLength="46.0" lengthAdjust="spacingAndGlyphs">set shot</text><rect x="999.4" y="1083.6" width="1.5" height="12.2" fill="#1B1A40"/><text x="1018.7" y="1093.8" font-size="12.2" fill="#666666" stroke="#666666" stroke-width="0.42" text-anchor="start" font-weight="normal" textLength="131.8" lengthAdjust="spacingAndGlyphs">shot from general play</text><path d="M939.8,1085.6 L943.4,1089.2 L939.8,1092.8 L936.2,1089.2 Z" fill="none" stroke="#666666" stroke-width="1"/><circle cx="1009.8" cy="1089.5" r="3.2" fill="#666666"/><text x="356.8" y="1377.0" font-size="12.2" fill="#666666" stroke="#666666" stroke-width="0.42" text-anchor="start" font-weight="normal" textLength="145.6" lengthAdjust="spacingAndGlyphs">start of possession chain</text><text x="526.9" y="1377.0" font-size="12.2" fill="#666666" stroke="#666666" stroke-width="0.42" text-anchor="start" font-weight="normal" textLength="138.5" lengthAdjust="spacingAndGlyphs">end of possession chain</text><rect x="673.5" y="1366.8" width="1.5" height="12.2" fill="#1B1A40"/><text x="681.2" y="1377.0" font-size="12.2" fill="#2593E0" stroke="#2593E0" stroke-width="0.42" text-anchor="start" font-weight="normal" textLength="167.5" lengthAdjust="spacingAndGlyphs">home team possession chain</text><rect x="854.1" y="1366.8" width="1.5" height="12.2" fill="#1B1A40"/><text x="860.7" y="1377.0" font-size="12.2" fill="#B3303F" stroke="#B3303F" stroke-width="0.42" text-anchor="start" font-weight="normal" textLength="165.7" lengthAdjust="spacingAndGlyphs">away team possession chain</text><rect x="1032.2" y="1366.8" width="1.5" height="12.2" fill="#1B1A40"/><text x="1051.0" y="1377.0" font-size="12.2" fill="#2593E0" stroke="#2593E0" stroke-width="0.42" text-anchor="start" font-weight="normal" textLength="165.6" lengthAdjust="spacingAndGlyphs">stoppage won by home team</text><rect x="1221.7" y="1366.8" width="1.5" height="12.2" fill="#1B1A40"/><text x="1241.2" y="1377.0" font-size="12.2" fill="#B3303F" stroke="#B3303F" stroke-width="0.42" text-anchor="start" font-weight="normal" textLength="163.7" lengthAdjust="spacingAndGlyphs">stoppage won by away team</text><path d="M510.8,1367 V1377 M510.8,1372 H516 M518,1372 H522.4" stroke="#666666" stroke-width="1.3" fill="none"/><circle cx="1042.8" cy="1372.7" r="3.3" fill="#2593E0"/><circle cx="1233" cy="1372.7" r="3.3" fill="#B3303F"/><rect x="0" y="1196.9" width="141.3" height="53.3" fill="#2253A0"/><defs><linearGradient id="fadeR" x1="0" x2="1"><stop offset="0.8" stop-color="#FF3300"/><stop offset="1" stop-color="#FF3300" stop-opacity="0"/></linearGradient><linearGradient id="fadeW" x1="0" x2="1"><stop offset="0.8" stop-color="#FFFFFF"/><stop offset="1" stop-color="#FFFFFF" stop-opacity="0"/></linearGradient></defs><rect x="0" y="1215.4" width="62" height="5.8" fill="url(#fadeR)"/><rect x="0" y="1225.9" width="58" height="7.4" fill="url(#fadeW)"/><text x="55" y="1240.8" font-size="45" font-weight="bold" fill="#fff" stroke="#fff" stroke-width="1.3" textLength="82.5" lengthAdjust="spacingAndGlyphs">wbd</text><rect x="0" y="1304.8" width="141.3" height="53.6" fill="#000"/><clipPath id="essc"><rect x="0" y="1304.8" width="141.3" height="53.6"/></clipPath><polygon points="20,1304.8 43.9,1304.8 6,1358.4 -17.9,1358.4" fill="#CE1F30" clip-path="url(#essc)"/><text transform="translate(55.6,1344.2) scale(0.88,1)" x="0 35.4 69.3" y="0" font-size="44" font-weight="bold" fill="#CE1F30" stroke="#CE1F30" stroke-width="1.2">ess</text><rect x="170.6" y="1243.2" width="1237.4" height="4.8" fill="#7B7B6E"/><rect x="170.6" y="1307.5" width="1237.4" height="4.8" fill="#7B7B6E"/><rect x="552.7" y="1197" width="8.8" height="161.7" fill="#1B1A40"/><text x="529.9" y="1188.3" font-size="17.9" fill="#1B1A40" stroke="#1B1A40" stroke-width="0.43" text-anchor="start" font-weight="normal" textLength="45.1" lengthAdjust="spacingAndGlyphs">32:58</text><rect x="953.1" y="1197" width="8.8" height="161.7" fill="#1B1A40"/><text x="930.3" y="1188.3" font-size="17.9" fill="#1B1A40" stroke="#1B1A40" stroke-width="0.43" text-anchor="start" font-weight="normal" textLength="45.1" lengthAdjust="spacingAndGlyphs">32:58</text><rect x="1353.1999999999998" y="1197" width="8.8" height="161.7" fill="#1B1A40"/><text x="1330.4" y="1188.3" font-size="17.9" fill="#1B1A40" stroke="#1B1A40" stroke-width="0.43" text-anchor="start" font-weight="normal" textLength="45.1" lengthAdjust="spacingAndGlyphs">32:58</text><line x1="170.5" y1="1277.4" x2="175.2" y2="1232" stroke="#1E88E5" stroke-width="1.95"/><line x1="177.5" y1="1244.8" x2="187" y2="1203.6" stroke="#1E88E5" stroke-width="1.95"/><line x1="197.5" y1="1352" x2="203.2" y2="1258.3" stroke="#1E88E5" stroke-width="1.95"/><line x1="239" y1="1325" x2="239.6" y2="1290" stroke="#1E88E5" stroke-width="1.95"/><line x1="258.5" y1="1304.2" x2="261.2" y2="1250.2" stroke="#1E88E5" stroke-width="1.95"/><line x1="253.1" y1="1320.4" x2="249.7" y2="1355.4" stroke="#1E88E5" stroke-width="1.95"/><line x1="270" y1="1295" x2="270.5" y2="1285" stroke="#1E88E5" stroke-width="1.95"/><line x1="286.9" y1="1312.3" x2="285.5" y2="1355.4" stroke="#1E88E5" stroke-width="1.95"/><line x1="290.8" y1="1319" x2="295.5" y2="1239.4" stroke="#1E88E5" stroke-width="1.95"/><line x1="306.3" y1="1342.6" x2="309" y2="1309.6" stroke="#1E88E5" stroke-width="1.95"/><line x1="313.7" y1="1301.5" x2="317.5" y2="1266.4" stroke="#1E88E5" stroke-width="1.95"/><line x1="324.5" y1="1298.1" x2="327.9" y2="1279.9" stroke="#1E88E5" stroke-width="1.95"/><line x1="332" y1="1345.3" x2="340.7" y2="1211.7" stroke="#1E88E5" stroke-width="1.95"/><line x1="354" y1="1352.1" x2="361.6" y2="1219.1" stroke="#1E88E5" stroke-width="1.95"/><line x1="384.6" y1="1289.3" x2="387.3" y2="1215.8" stroke="#1E88E5" stroke-width="1.95"/><line x1="394.7" y1="1265" x2="397.4" y2="1229.9" stroke="#1E88E5" stroke-width="1.95"/><line x1="406.9" y1="1259.6" x2="410" y2="1244.8" stroke="#1E88E5" stroke-width="1.95"/><line x1="407.4" y1="1259" x2="419.6" y2="1207.7" stroke="#1E88E5" stroke-width="1.95"/><line x1="441.8" y1="1208.3" x2="438.5" y2="1275.1" stroke="#1E88E5" stroke-width="1.95"/><line x1="436.2" y1="1305.2" x2="435.8" y2="1277.8" stroke="#1E88E5" stroke-width="1.95"/><line x1="458" y1="1336.5" x2="460.7" y2="1293.4" stroke="#1E88E5" stroke-width="1.95"/><line x1="470.2" y1="1355.4" x2="476.9" y2="1231.3" stroke="#1E88E5" stroke-width="1.95"/><line x1="482.3" y1="1290" x2="484.3" y2="1251.5" stroke="#1E88E5" stroke-width="1.95"/><line x1="499.9" y1="1355.4" x2="502.6" y2="1251.5" stroke="#1E88E5" stroke-width="1.95"/><line x1="509.3" y1="1288" x2="516.7" y2="1206.3" stroke="#1E88E5" stroke-width="1.95"/><line x1="537.5" y1="1339.2" x2="543.6" y2="1229.9" stroke="#1E88E5" stroke-width="1.95"/><line x1="570.6" y1="1277.2" x2="573.3" y2="1228.6" stroke="#1E88E5" stroke-width="1.95"/><line x1="574" y1="1214.4" x2="580" y2="1203" stroke="#1E88E5" stroke-width="1.95"/><line x1="634.7" y1="1277.2" x2="640.1" y2="1227.2" stroke="#1E88E5" stroke-width="1.95"/><line x1="677.1" y1="1209" x2="664.3" y2="1324.4" stroke="#1E88E5" stroke-width="1.95"/><line x1="656.2" y1="1277.2" x2="660.2" y2="1223.2" stroke="#1E88E5" stroke-width="1.95"/><line x1="687.9" y1="1277.2" x2="692" y2="1240.7" stroke="#1E88E5" stroke-width="1.95"/><line x1="707.5" y1="1324.4" x2="710.2" y2="1302.8" stroke="#1E88E5" stroke-width="1.95"/><line x1="713.5" y1="1307.5" x2="714.9" y2="1271.8" stroke="#1E88E5" stroke-width="1.95"/><line x1="723.7" y1="1267.7" x2="729.1" y2="1212.4" stroke="#1E88E5" stroke-width="1.95"/><line x1="737.2" y1="1346.7" x2="741.2" y2="1309.6" stroke="#1E88E5" stroke-width="1.95"/><line x1="747.5" y1="1339.2" x2="748.5" y2="1309" stroke="#1E88E5" stroke-width="1.95"/><line x1="754" y1="1329.1" x2="766.9" y2="1205.6" stroke="#1E88E5" stroke-width="1.95"/><line x1="777.5" y1="1210.4" x2="772.1" y2="1254.2" stroke="#1E88E5" stroke-width="1.95"/><line x1="795.1" y1="1302.8" x2="797.1" y2="1250.9" stroke="#1E88E5" stroke-width="1.95"/><line x1="809.9" y1="1355.4" x2="819.4" y2="1223.2" stroke="#1E88E5" stroke-width="1.95"/><line x1="821.4" y1="1267" x2="822.1" y2="1255.6" stroke="#1E88E5" stroke-width="1.95"/><line x1="831.9" y1="1292.7" x2="832.5" y2="1285" stroke="#1E88E5" stroke-width="1.95"/><line x1="838.9" y1="1355.4" x2="842.3" y2="1267" stroke="#1E88E5" stroke-width="1.95"/><line x1="848" y1="1317" x2="848.7" y2="1297.4" stroke="#1E88E5" stroke-width="1.95"/><line x1="862.6" y1="1355.4" x2="866.6" y2="1269" stroke="#1E88E5" stroke-width="1.95"/><line x1="878.8" y1="1339.2" x2="882.1" y2="1281.9" stroke="#1E88E5" stroke-width="1.95"/><line x1="917.8" y1="1277.2" x2="920.5" y2="1229.9" stroke="#1E88E5" stroke-width="1.95"/><line x1="924.5" y1="1229.9" x2="926.6" y2="1202.9" stroke="#1E88E5" stroke-width="1.95"/><line x1="971.1" y1="1277.2" x2="975.8" y2="1236.7" stroke="#1E88E5" stroke-width="1.95"/><line x1="981.9" y1="1246.1" x2="985.3" y2="1207.7" stroke="#1E88E5" stroke-width="1.95"/><line x1="1002.8" y1="1340.6" x2="1007.5" y2="1281.2" stroke="#1E88E5" stroke-width="1.95"/><line x1="881.3" y1="1282.6" x2="880.5" y2="1330" stroke="#1E88E5" stroke-width="1.95"/><line x1="1016.9" y1="1355.4" x2="1023.6" y2="1223.2" stroke="#1E88E5" stroke-width="1.95"/><line x1="1026.3" y1="1269" x2="1028.3" y2="1221.8" stroke="#1E88E5" stroke-width="1.95"/><line x1="1059.4" y1="1355.4" x2="1060.7" y2="1274.5" stroke="#1E88E5" stroke-width="1.95"/><line x1="1064.1" y1="1274.5" x2="1066.1" y2="1247.5" stroke="#1E88E5" stroke-width="1.95"/><line x1="1083" y1="1339.9" x2="1090.4" y2="1208.3" stroke="#1E88E5" stroke-width="1.95"/><line x1="1096.5" y1="1234" x2="1104.6" y2="1208.3" stroke="#1E88E5" stroke-width="1.95"/><line x1="1116.1" y1="1277.2" x2="1126.2" y2="1209" stroke="#1E88E5" stroke-width="1.95"/><line x1="1006.5" y1="1321.7" x2="1007" y2="1300" stroke="#1E88E5" stroke-width="1.95"/><line x1="1150.4" y1="1238" x2="1157.8" y2="1203" stroke="#1E88E5" stroke-width="1.95"/><line x1="1142.3" y1="1321.7" x2="1147.7" y2="1239.4" stroke="#1E88E5" stroke-width="1.95"/><line x1="1180" y1="1335.9" x2="1182.1" y2="1293.4" stroke="#1E88E5" stroke-width="1.95"/><line x1="1186.1" y1="1311.6" x2="1186.8" y2="1269" stroke="#1E88E5" stroke-width="1.95"/><line x1="1194.2" y1="1277.2" x2="1195.6" y2="1212.4" stroke="#1E88E5" stroke-width="1.95"/><line x1="1201.6" y1="1232.6" x2="1204" y2="1225" stroke="#1E88E5" stroke-width="1.95"/><line x1="1215.1" y1="1293.4" x2="1217.2" y2="1246.1" stroke="#1E88E5" stroke-width="1.95"/><line x1="1218.5" y1="1246.1" x2="1225.3" y2="1209.7" stroke="#1E88E5" stroke-width="1.95"/><line x1="1236.7" y1="1277.2" x2="1240.1" y2="1236" stroke="#1E88E5" stroke-width="1.95"/><line x1="1246.9" y1="1328.4" x2="1248.2" y2="1269" stroke="#1E88E5" stroke-width="1.95"/><line x1="1249.4" y1="1315" x2="1252.8" y2="1289.3" stroke="#1E88E5" stroke-width="1.95"/><line x1="1264.3" y1="1295.4" x2="1269.7" y2="1256.9" stroke="#1E88E5" stroke-width="1.95"/><line x1="1272.4" y1="1265.7" x2="1275" y2="1250.9" stroke="#1E88E5" stroke-width="1.95"/><line x1="1290.6" y1="1272.4" x2="1291.3" y2="1211" stroke="#1E88E5" stroke-width="1.95"/><line x1="1298" y1="1262.3" x2="1299.4" y2="1228.6" stroke="#1E88E5" stroke-width="1.95"/><line x1="1304.8" y1="1290" x2="1308.8" y2="1261" stroke="#1E88E5" stroke-width="1.95"/><line x1="1312.9" y1="1321.7" x2="1313.5" y2="1304.2" stroke="#1E88E5" stroke-width="1.95"/><line x1="1316.2" y1="1302.1" x2="1318.3" y2="1256.9" stroke="#1E88E5" stroke-width="1.95"/><line x1="1371" y1="1277.2" x2="1377.8" y2="1223.2" stroke="#1E88E5" stroke-width="1.95"/><line x1="1387.9" y1="1252.9" x2="1388.6" y2="1259.6" stroke="#1E88E5" stroke-width="1.95"/><line x1="1406.1" y1="1355.4" x2="1406.8" y2="1288" stroke="#1E88E5" stroke-width="1.95"/><line x1="1398" y1="1329.8" x2="1398" y2="1317.6" stroke="#1E88E5" stroke-width="1.95"/><line x1="187.7" y1="1200.2" x2="196.7" y2="1351.4" stroke="#D81B60" stroke-width="1.95"/><line x1="176.2" y1="1229.3" x2="177.3" y2="1243.4" stroke="#D81B60" stroke-width="1.95"/><line x1="203.2" y1="1257.6" x2="214" y2="1346" stroke="#D81B60" stroke-width="1.95"/><line x1="226.4" y1="1277.2" x2="230.9" y2="1329.1" stroke="#D81B60" stroke-width="1.95"/><line x1="239.6" y1="1289.6" x2="244.3" y2="1336.5" stroke="#D81B60" stroke-width="1.95"/><line x1="247" y1="1342" x2="249.7" y2="1355.4" stroke="#D81B60" stroke-width="1.95"/><line x1="261.2" y1="1248.8" x2="268.6" y2="1282.6" stroke="#D81B60" stroke-width="1.95"/><line x1="272" y1="1284.6" x2="282.1" y2="1354.1" stroke="#D81B60" stroke-width="1.95"/><line x1="288.1" y1="1310.2" x2="280" y2="1348.7" stroke="#D81B60" stroke-width="1.95"/><line x1="298.9" y1="1239.4" x2="305.6" y2="1342.6" stroke="#D81B60" stroke-width="1.95"/><line x1="319.8" y1="1270.4" x2="323.2" y2="1292" stroke="#D81B60" stroke-width="1.95"/><line x1="329.3" y1="1277.2" x2="332" y2="1344.6" stroke="#D81B60" stroke-width="1.95"/><line x1="340.7" y1="1211.7" x2="354" y2="1351.4" stroke="#D81B60" stroke-width="1.95"/><line x1="369.1" y1="1232" x2="379.9" y2="1294.7" stroke="#D81B60" stroke-width="1.95"/><line x1="387.3" y1="1215.8" x2="391.3" y2="1219.9" stroke="#D81B60" stroke-width="1.95"/><line x1="398.1" y1="1227.9" x2="403.5" y2="1257.6" stroke="#D81B60" stroke-width="1.95"/><line x1="400" y1="1227.2" x2="402.7" y2="1257.6" stroke="#D81B60" stroke-width="1.95"/><line x1="431.7" y1="1277.8" x2="435.8" y2="1301.5" stroke="#D81B60" stroke-width="1.95"/><line x1="453.3" y1="1277.8" x2="456.7" y2="1335.2" stroke="#D81B60" stroke-width="1.95"/><line x1="462.1" y1="1293.4" x2="464.8" y2="1342" stroke="#D81B60" stroke-width="1.95"/><line x1="476.9" y1="1231.3" x2="481" y2="1288" stroke="#D81B60" stroke-width="1.95"/><line x1="487.7" y1="1248.2" x2="497.2" y2="1352.7" stroke="#D81B60" stroke-width="1.95"/><line x1="505.3" y1="1243.4" x2="502.6" y2="1252.9" stroke="#D81B60" stroke-width="1.95"/><line x1="517.1" y1="1205.6" x2="522.8" y2="1265" stroke="#D81B60" stroke-width="1.95"/><line x1="520" y1="1204.3" x2="522.7" y2="1265" stroke="#D81B60" stroke-width="1.95"/><line x1="531.5" y1="1261.6" x2="536.9" y2="1337.2" stroke="#D81B60" stroke-width="1.95"/><line x1="541.6" y1="1230.6" x2="542.3" y2="1264.4" stroke="#D81B60" stroke-width="1.95"/><line x1="574" y1="1224.5" x2="575.3" y2="1214.4" stroke="#D81B60" stroke-width="1.95"/><line x1="581.4" y1="1200.2" x2="583.4" y2="1241.4" stroke="#D81B60" stroke-width="1.95"/><line x1="592.9" y1="1261" x2="601" y2="1346" stroke="#D81B60" stroke-width="1.95"/><line x1="611.8" y1="1277.8" x2="613.8" y2="1337.2" stroke="#D81B60" stroke-width="1.95"/><line x1="619.2" y1="1308.2" x2="622.6" y2="1334.5" stroke="#D81B60" stroke-width="1.95"/><line x1="622.6" y1="1334.5" x2="624.6" y2="1347.3" stroke="#D81B60" stroke-width="1.95"/><line x1="641.5" y1="1215.1" x2="642.1" y2="1223.2" stroke="#D81B60" stroke-width="1.95"/><line x1="641.3" y1="1215.8" x2="641.6" y2="1223.2" stroke="#D81B60" stroke-width="1.95"/><line x1="660.9" y1="1234" x2="664.3" y2="1323" stroke="#D81B60" stroke-width="1.95"/><line x1="692.6" y1="1221.2" x2="694" y2="1258.3" stroke="#D81B60" stroke-width="1.95"/><line x1="698.7" y1="1265.7" x2="707.5" y2="1323" stroke="#D81B60" stroke-width="1.95"/><line x1="729.7" y1="1212.4" x2="736.5" y2="1345.3" stroke="#D81B60" stroke-width="1.95"/><line x1="741.2" y1="1308.2" x2="747.3" y2="1339.2" stroke="#D81B60" stroke-width="1.95"/><line x1="748.6" y1="1301.5" x2="750" y2="1347.3" stroke="#D81B60" stroke-width="1.95"/><line x1="768.9" y1="1200.2" x2="770" y2="1247.5" stroke="#D81B60" stroke-width="1.95"/><line x1="766.7" y1="1201.6" x2="771.5" y2="1251.5" stroke="#D81B60" stroke-width="1.95"/><line x1="797.1" y1="1250.9" x2="799.8" y2="1285.3" stroke="#D81B60" stroke-width="1.95"/><line x1="788.3" y1="1277.2" x2="790.4" y2="1324.4" stroke="#D81B60" stroke-width="1.95"/><line x1="805.2" y1="1296.1" x2="809.3" y2="1351.4" stroke="#D81B60" stroke-width="1.95"/><line x1="819.4" y1="1222.5" x2="820.7" y2="1252.9" stroke="#D81B60" stroke-width="1.95"/><line x1="825.5" y1="1230" x2="825.5" y2="1250.2" stroke="#D81B60" stroke-width="1.95"/><line x1="828.8" y1="1259" x2="832.2" y2="1292" stroke="#D81B60" stroke-width="1.95"/><line x1="832.2" y1="1300.1" x2="833.5" y2="1350" stroke="#D81B60" stroke-width="1.95"/><line x1="845.7" y1="1270.4" x2="853.1" y2="1348" stroke="#D81B60" stroke-width="1.95"/><line x1="857.2" y1="1323" x2="857.8" y2="1350" stroke="#D81B60" stroke-width="1.95"/><line x1="868.6" y1="1257.2" x2="874.7" y2="1348.7" stroke="#D81B60" stroke-width="1.95"/><line x1="886.2" y1="1273.1" x2="887.5" y2="1328.4" stroke="#D81B60" stroke-width="1.95"/><line x1="899" y1="1296" x2="901.5" y2="1309.6" stroke="#D81B60" stroke-width="1.95"/><line x1="900.9" y1="1288" x2="907" y2="1346" stroke="#D81B60" stroke-width="1.95"/><line x1="923.2" y1="1213.7" x2="921.8" y2="1228.6" stroke="#D81B60" stroke-width="1.95"/><line x1="927.9" y1="1200.2" x2="938.7" y2="1350.7" stroke="#D81B60" stroke-width="1.95"/><line x1="975" y1="1227" x2="974.4" y2="1238" stroke="#D81B60" stroke-width="1.95"/><line x1="987.6" y1="1215.1" x2="989" y2="1239.4" stroke="#D81B60" stroke-width="1.95"/><line x1="990.7" y1="1240.7" x2="991.3" y2="1320.4" stroke="#D81B60" stroke-width="1.95"/><line x1="1000.1" y1="1299.4" x2="1001.5" y2="1340.6" stroke="#D81B60" stroke-width="1.95"/><line x1="1008.2" y1="1280.5" x2="1008.8" y2="1328.4" stroke="#D81B60" stroke-width="1.95"/><line x1="1008.8" y1="1280.5" x2="1012.8" y2="1328.4" stroke="#D81B60" stroke-width="1.95"/><line x1="1012.1" y1="1330.5" x2="1014.2" y2="1350" stroke="#D81B60" stroke-width="1.95"/><line x1="1024.3" y1="1223.9" x2="1025" y2="1267.7" stroke="#D81B60" stroke-width="1.95"/><line x1="1035.8" y1="1232.6" x2="1040.5" y2="1258.3" stroke="#D81B60" stroke-width="1.95"/><line x1="1046.6" y1="1272.4" x2="1047.9" y2="1308.2" stroke="#D81B60" stroke-width="1.95"/><line x1="1051.3" y1="1309.6" x2="1054" y2="1331.1" stroke="#D81B60" stroke-width="1.95"/><line x1="1056" y1="1332.5" x2="1057.4" y2="1350" stroke="#D81B60" stroke-width="1.95"/><line x1="1065.5" y1="1245.5" x2="1066.1" y2="1251.5" stroke="#D81B60" stroke-width="1.95"/><line x1="1067.5" y1="1292" x2="1072.9" y2="1329.8" stroke="#D81B60" stroke-width="1.95"/><line x1="1080.3" y1="1314.3" x2="1081.6" y2="1339.9" stroke="#D81B60" stroke-width="1.95"/><line x1="1090.4" y1="1206.3" x2="1091.7" y2="1212.4" stroke="#D81B60" stroke-width="1.95"/><line x1="1159.1" y1="1200.2" x2="1163.2" y2="1259.6" stroke="#D81B60" stroke-width="1.95"/><line x1="1137.5" y1="1277.8" x2="1140.2" y2="1315" stroke="#D81B60" stroke-width="1.95"/><line x1="1176.7" y1="1281.2" x2="1179.4" y2="1335.2" stroke="#D81B60" stroke-width="1.95"/><line x1="1182.1" y1="1292" x2="1185.5" y2="1318.3" stroke="#D81B60" stroke-width="1.95"/><line x1="1187.5" y1="1269" x2="1193" y2="1276.5" stroke="#D81B60" stroke-width="1.95"/><line x1="1207" y1="1239.4" x2="1210.4" y2="1294.7" stroke="#D81B60" stroke-width="1.95"/><line x1="1218.5" y1="1232.6" x2="1219.2" y2="1244.8" stroke="#D81B60" stroke-width="1.95"/><line x1="1240.8" y1="1235.3" x2="1246.2" y2="1328.4" stroke="#D81B60" stroke-width="1.95"/><line x1="1248.8" y1="1267.7" x2="1250.1" y2="1315" stroke="#D81B60" stroke-width="1.95"/><line x1="1278.5" y1="1249.5" x2="1281.8" y2="1278.5" stroke="#D81B60" stroke-width="1.95"/><line x1="1294" y1="1207.7" x2="1305.5" y2="1289.3" stroke="#D81B60" stroke-width="1.95"/><line x1="1300.2" y1="1227.2" x2="1300.2" y2="1261" stroke="#D81B60" stroke-width="1.95"/><line x1="1309.5" y1="1261" x2="1311.5" y2="1320.4" stroke="#D81B60" stroke-width="1.95"/><line x1="1320.3" y1="1245.7" x2="1343.2" y2="1355.4" stroke="#D81B60" stroke-width="1.95"/><line x1="1378.5" y1="1222.5" x2="1379.1" y2="1238" stroke="#D81B60" stroke-width="1.95"/><line x1="1394" y1="1261" x2="1402.1" y2="1350" stroke="#D81B60" stroke-width="1.95"/><line x1="1270" y1="1256" x2="1272" y2="1262" stroke="#D81B60" stroke-width="1.95"/><line x1="174.1" y1="1244.8" x2="181.70000000000002" y2="1244.8" stroke="#1E88E5" stroke-width="2.1"/><line x1="193.7" y1="1352" x2="201.3" y2="1352" stroke="#1E88E5" stroke-width="2.1"/><line x1="245.89999999999998" y1="1355.4" x2="253.5" y2="1355.4" stroke="#1E88E5" stroke-width="2.1"/><line x1="265.5" y1="1295" x2="273.1" y2="1295" stroke="#1E88E5" stroke-width="2.1"/><line x1="281.7" y1="1355.4" x2="289.3" y2="1355.4" stroke="#1E88E5" stroke-width="2.1"/><line x1="288.0" y1="1319" x2="295.6" y2="1319" stroke="#1E88E5" stroke-width="2.1"/><line x1="302.5" y1="1342.6" x2="310.1" y2="1342.6" stroke="#1E88E5" stroke-width="2.1"/><line x1="320.4" y1="1298.1" x2="328.0" y2="1298.1" stroke="#1E88E5" stroke-width="2.1"/><line x1="328.5" y1="1345.3" x2="336.1" y2="1345.3" stroke="#1E88E5" stroke-width="2.1"/><line x1="350.4" y1="1352.1" x2="358.0" y2="1352.1" stroke="#1E88E5" stroke-width="2.1"/><line x1="390.8" y1="1265" x2="398.40000000000003" y2="1265" stroke="#1E88E5" stroke-width="2.1"/><line x1="434.3" y1="1275.1" x2="441.90000000000003" y2="1275.1" stroke="#1E88E5" stroke-width="2.1"/><line x1="432.59999999999997" y1="1305.2" x2="440.2" y2="1305.2" stroke="#1E88E5" stroke-width="2.1"/><line x1="453.9" y1="1336.5" x2="461.5" y2="1336.5" stroke="#1E88E5" stroke-width="2.1"/><line x1="464.7" y1="1355.4" x2="472.3" y2="1355.4" stroke="#1E88E5" stroke-width="2.1"/><line x1="478.9" y1="1290" x2="486.5" y2="1290" stroke="#1E88E5" stroke-width="2.1"/><line x1="498.2" y1="1355.4" x2="505.8" y2="1355.4" stroke="#1E88E5" stroke-width="2.1"/><line x1="505.9" y1="1288" x2="513.5" y2="1288" stroke="#1E88E5" stroke-width="2.1"/><line x1="460.2" y1="1347" x2="467.8" y2="1347" stroke="#1E88E5" stroke-width="2.1"/><line x1="533.4000000000001" y1="1339.2" x2="541.0" y2="1339.2" stroke="#1E88E5" stroke-width="2.1"/><line x1="538.8000000000001" y1="1264.7" x2="546.4" y2="1264.7" stroke="#1E88E5" stroke-width="2.1"/><line x1="570.5" y1="1213.7" x2="578.0999999999999" y2="1213.7" stroke="#1E88E5" stroke-width="2.1"/><line x1="639.3000000000001" y1="1208.3" x2="646.9" y2="1208.3" stroke="#1E88E5" stroke-width="2.1"/><line x1="660.5" y1="1324.4" x2="668.0999999999999" y2="1324.4" stroke="#1E88E5" stroke-width="2.1"/><line x1="656.8000000000001" y1="1222.5" x2="664.4" y2="1222.5" stroke="#1E88E5" stroke-width="2.1"/><line x1="688.5" y1="1240.7" x2="696.0999999999999" y2="1240.7" stroke="#1E88E5" stroke-width="2.1"/><line x1="704.0" y1="1324.4" x2="711.5999999999999" y2="1324.4" stroke="#1E88E5" stroke-width="2.1"/><line x1="733.0" y1="1346.7" x2="740.5999999999999" y2="1346.7" stroke="#1E88E5" stroke-width="2.1"/><line x1="741.8000000000001" y1="1339.2" x2="749.4" y2="1339.2" stroke="#1E88E5" stroke-width="2.1"/><line x1="768.0" y1="1254.2" x2="775.5999999999999" y2="1254.2" stroke="#1E88E5" stroke-width="2.1"/><line x1="805.8000000000001" y1="1355.4" x2="813.4" y2="1355.4" stroke="#1E88E5" stroke-width="2.1"/><line x1="817.6" y1="1267" x2="825.1999999999999" y2="1267" stroke="#1E88E5" stroke-width="2.1"/><line x1="819.1" y1="1255.6" x2="826.6999999999999" y2="1255.6" stroke="#1E88E5" stroke-width="2.1"/><line x1="828.1" y1="1292.7" x2="835.6999999999999" y2="1292.7" stroke="#1E88E5" stroke-width="2.1"/><line x1="834.6" y1="1355.4" x2="842.1999999999999" y2="1355.4" stroke="#1E88E5" stroke-width="2.1"/><line x1="844.2" y1="1317" x2="851.8" y2="1317" stroke="#1E88E5" stroke-width="2.1"/><line x1="858.5" y1="1355.4" x2="866.0999999999999" y2="1355.4" stroke="#1E88E5" stroke-width="2.1"/><line x1="861.2" y1="1281.9" x2="868.8" y2="1281.9" stroke="#1E88E5" stroke-width="2.1"/><line x1="919.4000000000001" y1="1230.6" x2="927.0" y2="1230.6" stroke="#1E88E5" stroke-width="2.1"/><line x1="998.0" y1="1340.6" x2="1005.5999999999999" y2="1340.6" stroke="#1E88E5" stroke-width="2.1"/><line x1="987.2" y1="1237" x2="994.8" y2="1237" stroke="#1E88E5" stroke-width="2.1"/><line x1="988.2" y1="1326" x2="995.8" y2="1326" stroke="#1E88E5" stroke-width="2.1"/><line x1="1002.7" y1="1321.7" x2="1010.3" y2="1321.7" stroke="#1E88E5" stroke-width="2.1"/><line x1="1007.9000000000001" y1="1328.4" x2="1015.5" y2="1328.4" stroke="#1E88E5" stroke-width="2.1"/><line x1="1013.4000000000001" y1="1355.4" x2="1021.0" y2="1355.4" stroke="#1E88E5" stroke-width="2.1"/><line x1="1022.2" y1="1269" x2="1029.8" y2="1269" stroke="#1E88E5" stroke-width="2.1"/><line x1="1060.0" y1="1274.5" x2="1067.6" y2="1274.5" stroke="#1E88E5" stroke-width="2.1"/><line x1="1078.2" y1="1339.9" x2="1085.8" y2="1339.9" stroke="#1E88E5" stroke-width="2.1"/><line x1="1138.1000000000001" y1="1321.7" x2="1145.7" y2="1321.7" stroke="#1E88E5" stroke-width="2.1"/><line x1="1141.5" y1="1291.3" x2="1149.1" y2="1291.3" stroke="#1E88E5" stroke-width="2.1"/><line x1="1176.2" y1="1335.9" x2="1183.8" y2="1335.9" stroke="#1E88E5" stroke-width="2.1"/><line x1="1182.6000000000001" y1="1311.6" x2="1190.2" y2="1311.6" stroke="#1E88E5" stroke-width="2.1"/><line x1="1190.4" y1="1277.2" x2="1198.0" y2="1277.2" stroke="#1E88E5" stroke-width="2.1"/><line x1="1216.4" y1="1247.5" x2="1224.0" y2="1247.5" stroke="#1E88E5" stroke-width="2.1"/><line x1="1242.1000000000001" y1="1329.1" x2="1249.7" y2="1329.1" stroke="#1E88E5" stroke-width="2.1"/><line x1="1247.6000000000001" y1="1315" x2="1255.2" y2="1315" stroke="#1E88E5" stroke-width="2.1"/><line x1="1287.5" y1="1211.3" x2="1295.1" y2="1211.3" stroke="#1E88E5" stroke-width="2.1"/><line x1="1294.9" y1="1262.3" x2="1302.5" y2="1262.3" stroke="#1E88E5" stroke-width="2.1"/><line x1="1301.3" y1="1290" x2="1308.8999999999999" y2="1290" stroke="#1E88E5" stroke-width="2.1"/><line x1="1308.4" y1="1321.7" x2="1316.0" y2="1321.7" stroke="#1E88E5" stroke-width="2.1"/><line x1="1393.9" y1="1329.8" x2="1401.5" y2="1329.8" stroke="#1E88E5" stroke-width="2.1"/><line x1="1402.2" y1="1355.4" x2="1409.8" y2="1355.4" stroke="#1E88E5" stroke-width="2.1"/><line x1="184.7" y1="1200.2" x2="192.3" y2="1200.2" stroke="#D81B60" stroke-width="2.1"/><line x1="172.0" y1="1229.3" x2="179.60000000000002" y2="1229.3" stroke="#D81B60" stroke-width="2.1"/><line x1="199.39999999999998" y1="1257.6" x2="207.0" y2="1257.6" stroke="#D81B60" stroke-width="2.1"/><line x1="235.79999999999998" y1="1289.6" x2="243.4" y2="1289.6" stroke="#D81B60" stroke-width="2.1"/><line x1="257.7" y1="1248.8" x2="265.3" y2="1248.8" stroke="#D81B60" stroke-width="2.1"/><line x1="268.5" y1="1284.6" x2="276.1" y2="1284.6" stroke="#D81B60" stroke-width="2.1"/><line x1="283.2" y1="1310.2" x2="290.8" y2="1310.2" stroke="#D81B60" stroke-width="2.1"/><line x1="325.09999999999997" y1="1277.2" x2="332.7" y2="1277.2" stroke="#D81B60" stroke-width="2.1"/><line x1="336.9" y1="1211.7" x2="344.5" y2="1211.7" stroke="#D81B60" stroke-width="2.1"/><line x1="375.7" y1="1296.7" x2="383.3" y2="1296.7" stroke="#D81B60" stroke-width="2.1"/><line x1="384.2" y1="1214.5" x2="391.8" y2="1214.5" stroke="#D81B60" stroke-width="2.1"/><line x1="394.2" y1="1227.9" x2="401.8" y2="1227.9" stroke="#D81B60" stroke-width="2.1"/><line x1="433.2" y1="1279" x2="440.8" y2="1279" stroke="#D81B60" stroke-width="2.1"/><line x1="458.2" y1="1293.4" x2="465.8" y2="1293.4" stroke="#D81B60" stroke-width="2.1"/><line x1="473.2" y1="1231" x2="480.8" y2="1231" stroke="#D81B60" stroke-width="2.1"/><line x1="483.9" y1="1248.2" x2="491.5" y2="1248.2" stroke="#D81B60" stroke-width="2.1"/><line x1="499.5" y1="1250" x2="507.1" y2="1250" stroke="#D81B60" stroke-width="2.1"/><line x1="513.6" y1="1205.6" x2="521.1999999999999" y2="1205.6" stroke="#D81B60" stroke-width="2.1"/><line x1="527.3000000000001" y1="1261.6" x2="534.9" y2="1261.6" stroke="#D81B60" stroke-width="2.1"/><line x1="538.1" y1="1230.6" x2="545.6999999999999" y2="1230.6" stroke="#D81B60" stroke-width="2.1"/><line x1="569.9000000000001" y1="1224.5" x2="577.5" y2="1224.5" stroke="#D81B60" stroke-width="2.1"/><line x1="576.9000000000001" y1="1199.6" x2="584.5" y2="1199.6" stroke="#D81B60" stroke-width="2.1"/><line x1="656.1" y1="1219.1" x2="663.6999999999999" y2="1219.1" stroke="#D81B60" stroke-width="2.1"/><line x1="657.3000000000001" y1="1233.7" x2="664.9" y2="1233.7" stroke="#D81B60" stroke-width="2.1"/><line x1="688.8000000000001" y1="1221.2" x2="696.4" y2="1221.2" stroke="#D81B60" stroke-width="2.1"/><line x1="686.8000000000001" y1="1245.5" x2="694.4" y2="1245.5" stroke="#D81B60" stroke-width="2.1"/><line x1="705.3000000000001" y1="1299.4" x2="712.9" y2="1299.4" stroke="#D81B60" stroke-width="2.1"/><line x1="710.7" y1="1271.8" x2="718.3" y2="1271.8" stroke="#D81B60" stroke-width="2.1"/><line x1="726.3000000000001" y1="1212.4" x2="733.9" y2="1212.4" stroke="#D81B60" stroke-width="2.1"/><line x1="737.7" y1="1307.5" x2="745.3" y2="1307.5" stroke="#D81B60" stroke-width="2.1"/><line x1="745.2" y1="1301.5" x2="752.8" y2="1301.5" stroke="#D81B60" stroke-width="2.1"/><line x1="762.4000000000001" y1="1200.2" x2="770.0" y2="1200.2" stroke="#D81B60" stroke-width="2.1"/><line x1="762.6" y1="1200.9" x2="770.1999999999999" y2="1200.9" stroke="#D81B60" stroke-width="2.1"/><line x1="793.6" y1="1250.9" x2="801.1999999999999" y2="1250.9" stroke="#D81B60" stroke-width="2.1"/><line x1="815.9000000000001" y1="1222.5" x2="823.5" y2="1222.5" stroke="#D81B60" stroke-width="2.1"/><line x1="821.0" y1="1230" x2="828.5999999999999" y2="1230" stroke="#D81B60" stroke-width="2.1"/><line x1="828.1" y1="1300.1" x2="835.6999999999999" y2="1300.1" stroke="#D81B60" stroke-width="2.1"/><line x1="844.9000000000001" y1="1296.7" x2="852.5" y2="1296.7" stroke="#D81B60" stroke-width="2.1"/><line x1="864.5" y1="1257.2" x2="872.0999999999999" y2="1257.2" stroke="#D81B60" stroke-width="2.1"/><line x1="896.8000000000001" y1="1288" x2="904.4" y2="1288" stroke="#D81B60" stroke-width="2.1"/><line x1="918.3000000000001" y1="1213.7" x2="925.9" y2="1213.7" stroke="#D81B60" stroke-width="2.1"/><line x1="915.2" y1="1223" x2="922.8" y2="1223" stroke="#D81B60" stroke-width="2.1"/><line x1="924.4000000000001" y1="1200.2" x2="932.0" y2="1200.2" stroke="#D81B60" stroke-width="2.1"/><line x1="970.7" y1="1238" x2="978.3" y2="1238" stroke="#D81B60" stroke-width="2.1"/><line x1="983.8000000000001" y1="1215.1" x2="991.4" y2="1215.1" stroke="#D81B60" stroke-width="2.1"/><line x1="986.5" y1="1240.7" x2="994.0999999999999" y2="1240.7" stroke="#D81B60" stroke-width="2.1"/><line x1="1003.3000000000001" y1="1280.5" x2="1010.9" y2="1280.5" stroke="#D81B60" stroke-width="2.1"/><line x1="1004.6" y1="1280.5" x2="1012.1999999999999" y2="1280.5" stroke="#D81B60" stroke-width="2.1"/><line x1="1008.7" y1="1330.5" x2="1016.3" y2="1330.5" stroke="#D81B60" stroke-width="2.1"/><line x1="1020.5" y1="1223.9" x2="1028.1" y2="1223.9" stroke="#D81B60" stroke-width="2.1"/><line x1="1025.2" y1="1221.2" x2="1032.8" y2="1221.2" stroke="#D81B60" stroke-width="2.1"/><line x1="1061.7" y1="1245.5" x2="1069.3" y2="1245.5" stroke="#D81B60" stroke-width="2.1"/><line x1="1063.7" y1="1292" x2="1071.3" y2="1292" stroke="#D81B60" stroke-width="2.1"/><line x1="1086.6000000000001" y1="1206.3" x2="1094.2" y2="1206.3" stroke="#D81B60" stroke-width="2.1"/><line x1="1154.7" y1="1200.2" x2="1162.3" y2="1200.2" stroke="#D81B60" stroke-width="2.1"/><line x1="1178.3" y1="1292" x2="1185.8999999999999" y2="1292" stroke="#D81B60" stroke-width="2.1"/><line x1="1183.0" y1="1267" x2="1190.6" y2="1267" stroke="#D81B60" stroke-width="2.1"/><line x1="1214.7" y1="1232.6" x2="1222.3" y2="1232.6" stroke="#D81B60" stroke-width="2.1"/><line x1="1236.7" y1="1235.3" x2="1244.3" y2="1235.3" stroke="#D81B60" stroke-width="2.1"/><line x1="1244.2" y1="1267.7" x2="1251.8" y2="1267.7" stroke="#D81B60" stroke-width="2.1"/><line x1="1245.3" y1="1267.7" x2="1252.8999999999999" y2="1267.7" stroke="#D81B60" stroke-width="2.1"/><line x1="1265.2" y1="1256.2" x2="1272.8" y2="1256.2" stroke="#D81B60" stroke-width="2.1"/><line x1="1278.4" y1="1278.5" x2="1286.0" y2="1278.5" stroke="#D81B60" stroke-width="2.1"/><line x1="1290.2" y1="1207.7" x2="1297.8" y2="1207.7" stroke="#D81B60" stroke-width="2.1"/><line x1="1297.0" y1="1227.2" x2="1304.6" y2="1227.2" stroke="#D81B60" stroke-width="2.1"/><line x1="1306.0" y1="1261" x2="1313.6" y2="1261" stroke="#D81B60" stroke-width="2.1"/><line x1="1316.5" y1="1245.7" x2="1324.1" y2="1245.7" stroke="#D81B60" stroke-width="2.1"/><line x1="1374.0" y1="1222.5" x2="1381.6" y2="1222.5" stroke="#D81B60" stroke-width="2.1"/><line x1="1395.2" y1="1317" x2="1402.8" y2="1317" stroke="#D81B60" stroke-width="2.1"/><line x1="1402.2" y1="1288" x2="1409.8" y2="1288" stroke="#D81B60" stroke-width="2.1"/><path d="M166.4,1277.4 Q168.8,1274.0 170.5,1274.0 Q172.2,1274.0 174.6,1277.4 Q172.2,1280.4 170.5,1280.6000000000001 Q168.8,1280.4 166.4,1277.4 Z" fill="#1E88E5"/><path d="M234.9,1325 Q237.3,1321.6 239,1321.6 Q240.7,1321.6 243.1,1325 Q240.7,1328 239,1328.2 Q237.3,1328 234.9,1325 Z" fill="#1E88E5"/><path d="M254.4,1304.2 Q256.8,1300.8 258.5,1300.8 Q260.2,1300.8 262.6,1304.2 Q260.2,1307.2 258.5,1307.4 Q256.8,1307.2 254.4,1304.2 Z" fill="#1E88E5"/><path d="M309.59999999999997,1301.5 Q312.0,1298.1 313.7,1298.1 Q315.4,1298.1 317.8,1301.5 Q315.4,1304.5 313.7,1304.7 Q312.0,1304.5 309.59999999999997,1301.5 Z" fill="#1E88E5"/><path d="M360.9,1217.8 Q363.3,1214.3999999999999 365,1214.3999999999999 Q366.7,1214.3999999999999 369.1,1217.8 Q366.7,1220.8 365,1221.0 Q363.3,1220.8 360.9,1217.8 Z" fill="#1E88E5"/><path d="M380.5,1289.3 Q382.90000000000003,1285.8999999999999 384.6,1285.8999999999999 Q386.3,1285.8999999999999 388.70000000000005,1289.3 Q386.3,1292.3 384.6,1292.5 Q382.90000000000003,1292.3 380.5,1289.3 Z" fill="#1E88E5"/><path d="M402.79999999999995,1259.6 Q405.2,1256.1999999999998 406.9,1256.1999999999998 Q408.59999999999997,1256.1999999999998 411.0,1259.6 Q408.59999999999997,1262.6 406.9,1262.8 Q405.2,1262.6 402.79999999999995,1259.6 Z" fill="#1E88E5"/><path d="M403.29999999999995,1259 Q405.7,1255.6 407.4,1255.6 Q409.09999999999997,1255.6 411.5,1259 Q409.09999999999997,1262 407.4,1262.2 Q405.7,1262 403.29999999999995,1259 Z" fill="#1E88E5"/><path d="M524.1,1265 Q526.5,1261.6 528.2,1261.6 Q529.9000000000001,1261.6 532.3000000000001,1265 Q529.9000000000001,1268 528.2,1268.2 Q526.5,1268 524.1,1265 Z" fill="#1E88E5"/><path d="M524.6999999999999,1265 Q527.0999999999999,1261.6 528.8,1261.6 Q530.5,1261.6 532.9,1265 Q530.5,1268 528.8,1268.2 Q527.0999999999999,1268 524.6999999999999,1265 Z" fill="#1E88E5"/><path d="M566.5,1277.2 Q568.9,1273.8 570.6,1273.8 Q572.3000000000001,1273.8 574.7,1277.2 Q572.3000000000001,1280.2 570.6,1280.4 Q568.9,1280.2 566.5,1277.2 Z" fill="#1E88E5"/><path d="M630.6,1277.2 Q633.0,1273.8 634.7,1273.8 Q636.4000000000001,1273.8 638.8000000000001,1277.2 Q636.4000000000001,1280.2 634.7,1280.4 Q633.0,1280.2 630.6,1277.2 Z" fill="#1E88E5"/><path d="M652.1,1277.2 Q654.5,1273.8 656.2,1273.8 Q657.9000000000001,1273.8 660.3000000000001,1277.2 Q657.9000000000001,1280.2 656.2,1280.4 Q654.5,1280.2 652.1,1277.2 Z" fill="#1E88E5"/><path d="M683.8,1277.8 Q686.1999999999999,1274.3999999999999 687.9,1274.3999999999999 Q689.6,1274.3999999999999 692.0,1277.8 Q689.6,1280.8 687.9,1281.0 Q686.1999999999999,1280.8 683.8,1277.8 Z" fill="#1E88E5"/><path d="M709.4,1308.2 Q711.8,1304.8 713.5,1304.8 Q715.2,1304.8 717.6,1308.2 Q715.2,1311.2 713.5,1311.4 Q711.8,1311.2 709.4,1308.2 Z" fill="#1E88E5"/><path d="M719.6,1267.7 Q722.0,1264.3 723.7,1264.3 Q725.4000000000001,1264.3 727.8000000000001,1267.7 Q725.4000000000001,1270.7 723.7,1270.9 Q722.0,1270.7 719.6,1267.7 Z" fill="#1E88E5"/><path d="M715.6,1269.7 Q718.0,1266.3 719.7,1266.3 Q721.4000000000001,1266.3 723.8000000000001,1269.7 Q721.4000000000001,1272.7 719.7,1272.9 Q718.0,1272.7 715.6,1269.7 Z" fill="#1E88E5"/><path d="M749.9,1329.8 Q752.3,1326.3999999999999 754,1326.3999999999999 Q755.7,1326.3999999999999 758.1,1329.8 Q755.7,1332.8 754,1333.0 Q752.3,1332.8 749.9,1329.8 Z" fill="#1E88E5"/><path d="M791.0,1303.5 Q793.4,1300.1 795.1,1300.1 Q796.8000000000001,1300.1 799.2,1303.5 Q796.8000000000001,1306.5 795.1,1306.7 Q793.4,1306.5 791.0,1303.5 Z" fill="#1E88E5"/><path d="M874.6999999999999,1339.2 Q877.0999999999999,1335.8 878.8,1335.8 Q880.5,1335.8 882.9,1339.2 Q880.5,1342.2 878.8,1342.4 Q877.0999999999999,1342.2 874.6999999999999,1339.2 Z" fill="#1E88E5"/><path d="M913.6999999999999,1277.8 Q916.0999999999999,1274.3999999999999 917.8,1274.3999999999999 Q919.5,1274.3999999999999 921.9,1277.8 Q919.5,1280.8 917.8,1281.0 Q916.0999999999999,1280.8 913.6999999999999,1277.8 Z" fill="#1E88E5"/><path d="M889.4,1310.2 Q891.8,1306.8 893.5,1306.8 Q895.2,1306.8 897.6,1310.2 Q895.2,1313.2 893.5,1313.4 Q891.8,1313.2 889.4,1310.2 Z" fill="#1E88E5"/><path d="M967.0,1277.8 Q969.4,1274.3999999999999 971.1,1274.3999999999999 Q972.8000000000001,1274.3999999999999 975.2,1277.8 Q972.8000000000001,1280.8 971.1,1281.0 Q969.4,1280.8 967.0,1277.8 Z" fill="#1E88E5"/><path d="M977.8,1246.1 Q980.1999999999999,1242.6999999999998 981.9,1242.6999999999998 Q983.6,1242.6999999999998 986.0,1246.1 Q983.6,1249.1 981.9,1249.3 Q980.1999999999999,1249.1 977.8,1246.1 Z" fill="#1E88E5"/><path d="M1069.4,1342 Q1071.8,1338.6 1073.5,1338.6 Q1075.2,1338.6 1077.6,1342 Q1075.2,1345 1073.5,1345.2 Q1071.8,1345 1069.4,1342 Z" fill="#1E88E5"/><path d="M1092.4,1234.7 Q1094.8,1231.3 1096.5,1231.3 Q1098.2,1231.3 1100.6,1234.7 Q1098.2,1237.7 1096.5,1237.9 Q1094.8,1237.7 1092.4,1234.7 Z" fill="#1E88E5"/><path d="M1112.0,1277.8 Q1114.3999999999999,1274.3999999999999 1116.1,1274.3999999999999 Q1117.8,1274.3999999999999 1120.1999999999998,1277.8 Q1117.8,1280.8 1116.1,1281.0 Q1114.3999999999999,1280.8 1112.0,1277.8 Z" fill="#1E88E5"/><path d="M1146.3000000000002,1238.7 Q1148.7,1235.3 1150.4,1235.3 Q1152.1000000000001,1235.3 1154.5,1238.7 Q1152.1000000000001,1241.7 1150.4,1241.9 Q1148.7,1241.7 1146.3000000000002,1238.7 Z" fill="#1E88E5"/><path d="M1197.5,1232.6 Q1199.8999999999999,1229.1999999999998 1201.6,1229.1999999999998 Q1203.3,1229.1999999999998 1205.6999999999998,1232.6 Q1203.3,1235.6 1201.6,1235.8 Q1199.8999999999999,1235.6 1197.5,1232.6 Z" fill="#1E88E5"/><path d="M1210.4,1293.4 Q1212.8,1290.0 1214.5,1290.0 Q1216.2,1290.0 1218.6,1293.4 Q1216.2,1296.4 1214.5,1296.6000000000001 Q1212.8,1296.4 1210.4,1293.4 Z" fill="#1E88E5"/><path d="M1232.6000000000001,1277.8 Q1235.0,1274.3999999999999 1236.7,1274.3999999999999 Q1238.4,1274.3999999999999 1240.8,1277.8 Q1238.4,1280.8 1236.7,1281.0 Q1235.0,1280.8 1232.6000000000001,1277.8 Z" fill="#1E88E5"/><path d="M1253.4,1293.4 Q1255.8,1290.0 1257.5,1290.0 Q1259.2,1290.0 1261.6,1293.4 Q1259.2,1296.4 1257.5,1296.6000000000001 Q1255.8,1296.4 1253.4,1293.4 Z" fill="#1E88E5"/><path d="M1260.2,1296.1 Q1262.6,1292.6999999999998 1264.3,1292.6999999999998 Q1266.0,1292.6999999999998 1268.3999999999999,1296.1 Q1266.0,1299.1 1264.3,1299.3 Q1262.6,1299.1 1260.2,1296.1 Z" fill="#1E88E5"/><path d="M1268.3000000000002,1265.7 Q1270.7,1262.3 1272.4,1262.3 Q1274.1000000000001,1262.3 1276.5,1265.7 Q1274.1000000000001,1268.7 1272.4,1268.9 Q1270.7,1268.7 1268.3000000000002,1265.7 Z" fill="#1E88E5"/><path d="M1281.8000000000002,1270.4 Q1284.2,1267.0 1285.9,1267.0 Q1287.6000000000001,1267.0 1290.0,1270.4 Q1287.6000000000001,1273.4 1285.9,1273.6000000000001 Q1284.2,1273.4 1281.8000000000002,1270.4 Z" fill="#1E88E5"/><path d="M1286.5,1273.1 Q1288.8999999999999,1269.6999999999998 1290.6,1269.6999999999998 Q1292.3,1269.6999999999998 1294.6999999999998,1273.1 Q1292.3,1276.1 1290.6,1276.3 Q1288.8999999999999,1276.1 1286.5,1273.1 Z" fill="#1E88E5"/><path d="M1312.1000000000001,1302.1 Q1314.5,1298.6999999999998 1316.2,1298.6999999999998 Q1317.9,1298.6999999999998 1320.3,1302.1 Q1317.9,1305.1 1316.2,1305.3 Q1314.5,1305.1 1312.1000000000001,1302.1 Z" fill="#1E88E5"/><path d="M1366.9,1277.8 Q1369.3,1274.3999999999999 1371,1274.3999999999999 Q1372.7,1274.3999999999999 1375.1,1277.8 Q1372.7,1280.8 1371,1281.0 Q1369.3,1280.8 1366.9,1277.8 Z" fill="#1E88E5"/><path d="M1383.8000000000002,1252.9 Q1386.2,1249.5 1387.9,1249.5 Q1389.6000000000001,1249.5 1392.0,1252.9 Q1389.6000000000001,1255.9 1387.9,1256.1000000000001 Q1386.2,1255.9 1383.8000000000002,1252.9 Z" fill="#1E88E5"/><path d="M222.3,1277.2 Q224.70000000000002,1273.8 226.4,1273.8 Q228.1,1273.8 230.5,1277.2 Q228.1,1280.2 226.4,1280.4 Q224.70000000000002,1280.2 222.3,1277.2 Z" fill="#D81B60"/><path d="M231.5,1319.7 Q233.9,1316.3 235.6,1316.3 Q237.29999999999998,1316.3 239.7,1319.7 Q237.29999999999998,1322.7 235.6,1322.9 Q233.9,1322.7 231.5,1319.7 Z" fill="#D81B60"/><path d="M242.9,1342 Q245.3,1338.6 247,1338.6 Q248.7,1338.6 251.1,1342 Q248.7,1345 247,1345.2 Q245.3,1345 242.9,1342 Z" fill="#D81B60"/><path d="M264.9,1282.6 Q267.3,1279.1999999999998 269,1279.1999999999998 Q270.7,1279.1999999999998 273.1,1282.6 Q270.7,1285.6 269,1285.8 Q267.3,1285.6 264.9,1282.6 Z" fill="#D81B60"/><path d="M294.79999999999995,1238.7 Q297.2,1235.3 298.9,1235.3 Q300.59999999999997,1235.3 303.0,1238.7 Q300.59999999999997,1241.7 298.9,1241.9 Q297.2,1241.7 294.79999999999995,1238.7 Z" fill="#D81B60"/><path d="M315.7,1269.7 Q318.1,1266.3 319.8,1266.3 Q321.5,1266.3 323.90000000000003,1269.7 Q321.5,1272.7 319.8,1272.9 Q318.1,1272.7 315.7,1269.7 Z" fill="#D81B60"/><path d="M365.0,1231.3 Q367.40000000000003,1227.8999999999999 369.1,1227.8999999999999 Q370.8,1227.8999999999999 373.20000000000005,1231.3 Q370.8,1234.3 369.1,1234.5 Q367.40000000000003,1234.3 365.0,1231.3 Z" fill="#D81B60"/><path d="M426.9,1277.2 Q429.3,1273.8 431,1273.8 Q432.7,1273.8 435.1,1277.2 Q432.7,1280.2 431,1280.4 Q429.3,1280.2 426.9,1277.2 Z" fill="#D81B60"/><path d="M449.2,1277.2 Q451.6,1273.8 453.3,1273.8 Q455.0,1273.8 457.40000000000003,1277.2 Q455.0,1280.2 453.3,1280.4 Q451.6,1280.2 449.2,1277.2 Z" fill="#D81B60"/><path d="M586.1,1261 Q588.5,1257.6 590.2,1257.6 Q591.9000000000001,1257.6 594.3000000000001,1261 Q591.9000000000001,1264 590.2,1264.2 Q588.5,1264 586.1,1261 Z" fill="#D81B60"/><path d="M607.0,1277.2 Q609.4,1273.8 611.1,1273.8 Q612.8000000000001,1273.8 615.2,1277.2 Q612.8000000000001,1280.2 611.1,1280.4 Q609.4,1280.2 607.0,1277.2 Z" fill="#D81B60"/><path d="M615.1,1307.9 Q617.5,1304.5 619.2,1304.5 Q620.9000000000001,1304.5 623.3000000000001,1307.9 Q620.9000000000001,1310.9 619.2,1311.1000000000001 Q617.5,1310.9 615.1,1307.9 Z" fill="#D81B60"/><path d="M618.5,1334.5 Q620.9,1331.1 622.6,1331.1 Q624.3000000000001,1331.1 626.7,1334.5 Q624.3000000000001,1337.5 622.6,1337.7 Q620.9,1337.5 618.5,1334.5 Z" fill="#D81B60"/><path d="M694.6,1265 Q697.0,1261.6 698.7,1261.6 Q700.4000000000001,1261.6 702.8000000000001,1265 Q700.4000000000001,1268 698.7,1268.2 Q697.0,1268 694.6,1265 Z" fill="#D81B60"/><path d="M784.1999999999999,1277.2 Q786.5999999999999,1273.8 788.3,1273.8 Q790.0,1273.8 792.4,1277.2 Q790.0,1280.2 788.3,1280.4 Q786.5999999999999,1280.2 784.1999999999999,1277.2 Z" fill="#D81B60"/><path d="M801.1,1295.4 Q803.5,1292.0 805.2,1292.0 Q806.9000000000001,1292.0 809.3000000000001,1295.4 Q806.9000000000001,1298.4 805.2,1298.6000000000001 Q803.5,1298.4 801.1,1295.4 Z" fill="#D81B60"/><path d="M824.6999999999999,1258.3 Q827.0999999999999,1254.8999999999999 828.8,1254.8999999999999 Q830.5,1254.8999999999999 832.9,1258.3 Q830.5,1261.3 828.8,1261.5 Q827.0999999999999,1261.3 824.6999999999999,1258.3 Z" fill="#D81B60"/><path d="M841.6,1269.7 Q844.0,1266.3 845.7,1266.3 Q847.4000000000001,1266.3 849.8000000000001,1269.7 Q847.4000000000001,1272.7 845.7,1272.9 Q844.0,1272.7 841.6,1269.7 Z" fill="#D81B60"/><path d="M853.1,1323 Q855.5,1319.6 857.2,1319.6 Q858.9000000000001,1319.6 861.3000000000001,1323 Q858.9000000000001,1326 857.2,1326.2 Q855.5,1326 853.1,1323 Z" fill="#D81B60"/><path d="M882.0,1273.1 Q884.4,1269.6999999999998 886.1,1269.6999999999998 Q887.8000000000001,1269.6999999999998 890.2,1273.1 Q887.8000000000001,1276.1 886.1,1276.3 Q884.4,1276.1 882.0,1273.1 Z" fill="#D81B60"/><path d="M892.8,1295.4 Q895.1999999999999,1292.0 896.9,1292.0 Q898.6,1292.0 901.0,1295.4 Q898.6,1298.4 896.9,1298.6000000000001 Q895.1999999999999,1298.4 892.8,1295.4 Z" fill="#D81B60"/><path d="M939.3,1336.5 Q941.6999999999999,1333.1 943.4,1333.1 Q945.1,1333.1 947.5,1336.5 Q945.1,1339.5 943.4,1339.7 Q941.6999999999999,1339.5 939.3,1336.5 Z" fill="#D81B60"/><path d="M995.3,1298.8 Q997.6999999999999,1295.3999999999999 999.4,1295.3999999999999 Q1001.1,1295.3999999999999 1003.5,1298.8 Q1001.1,1301.8 999.4,1302.0 Q997.6999999999999,1301.8 995.3,1298.8 Z" fill="#D81B60"/><path d="M1026.9,1226.6 Q1029.3,1223.1999999999998 1031,1223.1999999999998 Q1032.7,1223.1999999999998 1035.1,1226.6 Q1032.7,1229.6 1031,1229.8 Q1029.3,1229.6 1026.9,1226.6 Z" fill="#D81B60"/><path d="M1031.7,1232 Q1034.1,1228.6 1035.8,1228.6 Q1037.5,1228.6 1039.8999999999999,1232 Q1037.5,1235 1035.8,1235.2 Q1034.1,1235 1031.7,1232 Z" fill="#D81B60"/><path d="M1042.5,1271.8 Q1044.8999999999999,1268.3999999999999 1046.6,1268.3999999999999 Q1048.3,1268.3999999999999 1050.6999999999998,1271.8 Q1048.3,1274.8 1046.6,1275.0 Q1044.8999999999999,1274.8 1042.5,1271.8 Z" fill="#D81B60"/><path d="M1047.2,1308.9 Q1049.6,1305.5 1051.3,1305.5 Q1053.0,1305.5 1055.3999999999999,1308.9 Q1053.0,1311.9 1051.3,1312.1000000000001 Q1049.6,1311.9 1047.2,1308.9 Z" fill="#D81B60"/><path d="M1051.9,1331.8 Q1054.3,1328.3999999999999 1056,1328.3999999999999 Q1057.7,1328.3999999999999 1060.1,1331.8 Q1057.7,1334.8 1056,1335.0 Q1054.3,1334.8 1051.9,1331.8 Z" fill="#D81B60"/><path d="M1075.5,1314.3 Q1077.8999999999999,1310.8999999999999 1079.6,1310.8999999999999 Q1081.3,1310.8999999999999 1083.6999999999998,1314.3 Q1081.3,1317.3 1079.6,1317.5 Q1077.8999999999999,1317.3 1075.5,1314.3 Z" fill="#D81B60"/><path d="M1162.5,1259.6 Q1164.8999999999999,1256.1999999999998 1166.6,1256.1999999999998 Q1168.3,1256.1999999999998 1170.6999999999998,1259.6 Q1168.3,1262.6 1166.6,1262.8 Q1164.8999999999999,1262.6 1162.5,1259.6 Z" fill="#D81B60"/><path d="M1133.4,1277.2 Q1135.8,1273.8 1137.5,1273.8 Q1139.2,1273.8 1141.6,1277.2 Q1139.2,1280.2 1137.5,1280.4 Q1135.8,1280.2 1133.4,1277.2 Z" fill="#D81B60"/><path d="M1168.5,1274.5 Q1170.8999999999999,1271.1 1172.6,1271.1 Q1174.3,1271.1 1176.6999999999998,1274.5 Q1174.3,1277.5 1172.6,1277.7 Q1170.8999999999999,1277.5 1168.5,1274.5 Z" fill="#D81B60"/><path d="M1172.6000000000001,1280.5 Q1175.0,1277.1 1176.7,1277.1 Q1178.4,1277.1 1180.8,1280.5 Q1178.4,1283.5 1176.7,1283.7 Q1175.0,1283.5 1172.6000000000001,1280.5 Z" fill="#D81B60"/><path d="M1202.9,1238.7 Q1205.3,1235.3 1207,1235.3 Q1208.7,1235.3 1211.1,1238.7 Q1208.7,1241.7 1207,1241.9 Q1205.3,1241.7 1202.9,1238.7 Z" fill="#D81B60"/><path d="M1274.4,1248.8 Q1276.8,1245.3999999999999 1278.5,1245.3999999999999 Q1280.2,1245.3999999999999 1282.6,1248.8 Q1280.2,1251.8 1278.5,1252.0 Q1276.8,1251.8 1274.4,1248.8 Z" fill="#D81B60"/><path d="M1389.2,1260.3 Q1391.6,1256.8999999999999 1393.3,1256.8999999999999 Q1395.0,1256.8999999999999 1397.3999999999999,1260.3 Q1395.0,1263.3 1393.3,1263.5 Q1391.6,1263.3 1389.2,1260.3 Z" fill="#D81B60"/><polygon points="179.4,1195.3 194.20000000000002,1195.3 186.8,1208" fill="none" stroke="#1E88E5" stroke-width="1.7"/><polygon points="205.10000000000002,1361 223.5,1361 214.3,1345.6" fill="#D81B60"/><polygon points="241.5,1360.1 255.89999999999998,1360.1 248.7,1349" fill="none" stroke="#D81B60" stroke-width="1.7"/><polygon points="274.6,1360.1 289.0,1360.1 281.8,1349" fill="none" stroke="#D81B60" stroke-width="1.7"/><polygon points="410.59999999999997,1193.5 429.8,1193.5 420.2,1210.6" fill="#1E88E5"/><polygon points="432.5,1193.5 451.70000000000005,1193.5 442.1,1210.6" fill="#1E88E5"/><polygon points="460.3,1360.1 474.7,1360.1 467.5,1349" fill="none" stroke="#D81B60" stroke-width="1.7"/><polygon points="489.7,1360.1 504.09999999999997,1360.1 496.9,1349" fill="none" stroke="#D81B60" stroke-width="1.7"/><polygon points="572.6,1195.3 587.4,1195.3 580,1208" fill="none" stroke="#1E88E5" stroke-width="1.7"/><polygon points="635.9,1193.5 655.1,1193.5 645.5,1210.6" fill="#1E88E5"/><polygon points="591.8,1361 610.2,1361 601,1345.6" fill="#D81B60"/><polygon points="615.4,1361 633.8000000000001,1361 624.6,1345.6" fill="#D81B60"/><polygon points="667.9,1193.5 687.1,1193.5 677.5,1210.6" fill="#1E88E5"/><polygon points="758.8000000000001,1195.3 773.6,1195.3 766.2,1208" fill="none" stroke="#1E88E5" stroke-width="1.7"/><polygon points="768.6999999999999,1193.5 787.9,1193.5 778.3,1210.6" fill="#1E88E5"/><polygon points="801.4,1360.1 815.8000000000001,1360.1 808.6,1349" fill="none" stroke="#D81B60" stroke-width="1.7"/><polygon points="826.3,1360.1 840.7,1360.1 833.5,1349" fill="none" stroke="#D81B60" stroke-width="1.7"/><polygon points="850.5999999999999,1360.1 865.0,1360.1 857.8,1349" fill="none" stroke="#D81B60" stroke-width="1.7"/><polygon points="918.5,1195.3 933.3,1195.3 925.9,1208" fill="none" stroke="#1E88E5" stroke-width="1.7"/><polygon points="897.8,1361 916.2,1361 907,1345.6" fill="#D81B60"/><polygon points="1007.0,1360.1 1021.4000000000001,1360.1 1014.2,1349" fill="none" stroke="#D81B60" stroke-width="1.7"/><polygon points="1050.2,1360.1 1064.6000000000001,1360.1 1057.4,1349" fill="none" stroke="#D81B60" stroke-width="1.7"/><polygon points="1096.3000000000002,1193.5 1115.5,1193.5 1105.9,1210.6" fill="#1E88E5"/><polygon points="1117.9,1193.5 1137.1,1193.5 1127.5,1210.6" fill="#1E88E5"/><polygon points="1150.3999999999999,1195.3 1165.2,1195.3 1157.8,1208" fill="none" stroke="#1E88E5" stroke-width="1.7"/><polygon points="1217.0,1193.5 1236.1999999999998,1193.5 1226.6,1210.6" fill="#1E88E5"/><polygon points="1336.0,1360.1 1350.4,1360.1 1343.2,1349" fill="none" stroke="#D81B60" stroke-width="1.7"/><polygon points="1394.8999999999999,1360.1 1409.3,1360.1 1402.1,1349" fill="none" stroke="#D81B60" stroke-width="1.7"/>
</svg></body></html>
